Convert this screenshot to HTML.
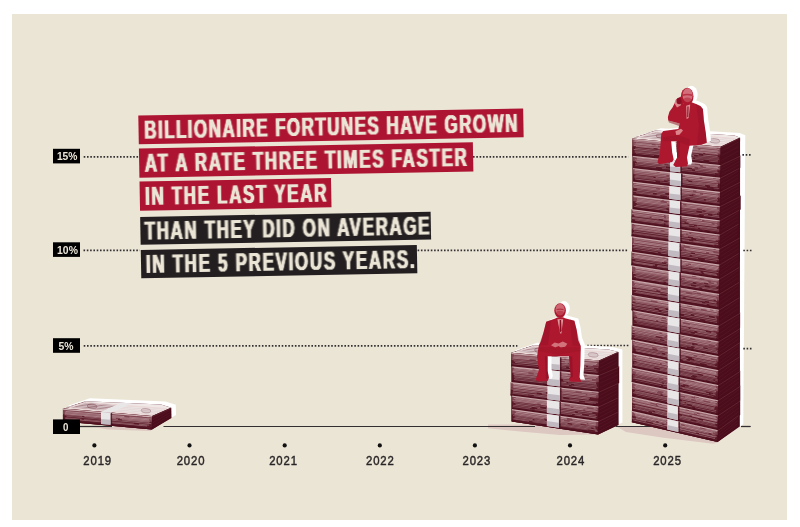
<!DOCTYPE html>
<html lang="en"><head><meta charset="utf-8"><title>Billionaire fortunes</title>
<style>
html,body{margin:0;padding:0;background:#fff;}
svg{display:block;}
text{font-family:"Liberation Sans",sans-serif;white-space:pre;}
.dot{stroke:#332f30;stroke-width:1.7;stroke-dasharray:1.6 1.7;fill:none;}
.hl{font-weight:700;font-size:25.8px;fill:#ebe5d6;}
.yl{font-weight:700;font-size:10.4px;fill:#ece6d9;}
.yr{font-weight:400;font-size:13.2px;fill:#2a2627;stroke:#2a2627;stroke-width:.45px;}
</style></head><body>
<svg width="800" height="527" viewBox="0 0 800 527">
<rect width="800" height="527" fill="#fff"/>
<rect x="12" y="14" width="775" height="506" fill="#ebe5d6"/>
<defs><filter id="thick" x="-2%" y="-10%" width="104%" height="120%" color-interpolation-filters="sRGB"><feConvolveMatrix in="SourceAlpha" order="3 1" kernelMatrix="0.42 1 0.42" divisor="1" edgeMode="none" result="a"/><feFlood flood-color="#ebe5d6"/><feComposite operator="in" in2="a"/></filter><filter id="gs" x="-5%" y="-5%" width="110%" height="110%"><feOffset dx="0" dy="0"/></filter></defs>
<g stroke="#332f30" stroke-width="1.2">
<line x1="80" y1="426.5" x2="112" y2="426.5"/>
<line x1="163.7" y1="426.5" x2="535" y2="426.5"/>
<line x1="615.8" y1="426.5" x2="655" y2="426.5"/>
<line x1="741" y1="426.5" x2="750.5" y2="426.5"/>
</g>
<line class="dot" x1="83.7" y1="156.9" x2="138.4" y2="156.9"/>
<line class="dot" x1="473.0" y1="156.8" x2="628.2" y2="156.8"/>
<line class="dot" x1="83.5" y1="250.4" x2="139.8" y2="250.4"/>
<line class="dot" x1="417.6" y1="250.4" x2="628.2" y2="250.4"/>
<line class="dot" x1="83.7" y1="345.8" x2="517.4" y2="345.8"/>
<line class="dot" x1="587.2" y1="345.5" x2="629.4" y2="345.5"/>
<g filter="url(#gs)">
<circle cx="94.4" cy="445.4" r="2.1" fill="#111"/>
<text class="yr" transform="translate(83.3,464.7) scale(.86,1)" style="letter-spacing:1.0px">2019</text>
<circle cx="189.5" cy="445.4" r="2.1" fill="#111"/>
<text class="yr" transform="translate(176.7,464.7) scale(.86,1)" style="letter-spacing:1.0px">2020</text>
<circle cx="284.7" cy="445.4" r="2.1" fill="#111"/>
<text class="yr" transform="translate(269.2,464.7) scale(.86,1)" style="letter-spacing:1.0px">2021</text>
<circle cx="379.8" cy="445.4" r="2.1" fill="#111"/>
<text class="yr" transform="translate(366.0,464.7) scale(.86,1)" style="letter-spacing:1.0px">2022</text>
<circle cx="474.9" cy="445.4" r="2.1" fill="#111"/>
<text class="yr" transform="translate(462.5,464.7) scale(.86,1)" style="letter-spacing:1.0px">2023</text>
<circle cx="570.0" cy="445.4" r="2.1" fill="#111"/>
<text class="yr" transform="translate(556.5,464.7) scale(.86,1)" style="letter-spacing:1.0px">2024</text>
<circle cx="665.2" cy="445.4" r="2.1" fill="#111"/>
<text class="yr" transform="translate(653.2,464.7) scale(.86,1)" style="letter-spacing:1.0px">2025</text>
</g>
<g transform="translate(138.3,115.6) rotate(-1.05)">
<rect x="0" y="0" width="384.9" height="28.7" fill="#ad1432"/>
<text class="hl" filter="url(#thick)" transform="translate(5.65,23.25) scale(0.659,1)" style="letter-spacing:2.233px">BILLIONAIRE FORTUNES HAVE GROWN</text>
<rect x="0" y="32.9" width="334.0" height="29.2" fill="#ad1432"/>
<text class="hl" filter="url(#thick)" transform="translate(5.62,56.40) scale(0.659,1)" style="letter-spacing:2.504px">AT A RATE THREE TIMES FASTER</text>
<rect x="0" y="66.0" width="191.5" height="29.2" fill="#ad1432"/>
<text class="hl" filter="url(#thick)" transform="translate(5.20,89.50) scale(0.659,1)" style="letter-spacing:2.536px">IN THE LAST YEAR</text>
<rect x="0" y="101.4" width="290.5" height="27.8" fill="#231f20"/>
<text class="hl" filter="url(#thick)" transform="translate(4.25,124.20) scale(0.659,1)" style="letter-spacing:2.437px">THAN THEY DID ON AVERAGE</text>
<rect x="0" y="134.4" width="276.1" height="28.4" fill="#231f20"/>
<text class="hl" filter="url(#thick)" transform="translate(4.81,157.50) scale(0.659,1)" style="letter-spacing:2.555px">IN THE 5 PREVIOUS YEARS.</text>
</g>
<polygon points="488,424.6 534,424.6 598,433.6 598,434.6 560,435 520,431.6 488,428.2" fill="#ddc7c1"/>
<polygon points="616.5,426.6 655,426.6 718.8,442.4 713,443.8 662,437.6 626,432" fill="#ddc7c1"/>
<polygon points="92,426.8 151,426.8 151,431 108,429.6" fill="#ddc7c1"/>
<g stroke="#332f30" stroke-width="1.1">
<line x1="80" y1="426.5" x2="112" y2="426.5"/>
<line x1="163.7" y1="426.5" x2="535" y2="426.5"/>
<line x1="615.8" y1="426.5" x2="655" y2="426.5"/>
<line x1="741" y1="426.5" x2="750.5" y2="426.5"/>
</g>
<g id="stack2024">
<polygon points="515.1,350.4 537.2,342.8 612.3,347.0 622.4,349.6 622.4,422.6 602.0,432.1 515.1,419.2" fill="#fff"/>
<polygon points="511.3,352.8 533.4,345.2 608.5,349.4 618.6,352.0 618.6,425.0 598.2,434.5 511.3,421.6" fill="#4b0c1b"/>
<polygon points="511.3,352.8 533.4,345.2 608.5,349.4 618.6,352.0 599.0,360.4" fill="#efe8e7"/>
<line x1="515.0" y1="351.5" x2="551.6" y2="354.7" stroke="#62202e" stroke-width=".95" opacity="0.45"/>
<line x1="555.6" y1="355.0" x2="599.6" y2="358.8" stroke="#62202e" stroke-width=".45" opacity="0.2"/>
<line x1="518.7" y1="350.3" x2="555.2" y2="353.3" stroke="#62202e" stroke-width=".95" opacity="0.45"/>
<line x1="560.0" y1="353.8" x2="602.9" y2="357.4" stroke="#62202e" stroke-width=".45" opacity="0.2"/>
<line x1="522.4" y1="349.0" x2="558.7" y2="352.0" stroke="#62202e" stroke-width=".95" opacity="0.45"/>
<line x1="566.6" y1="352.7" x2="606.2" y2="356.0" stroke="#62202e" stroke-width=".45" opacity="0.2"/>
<line x1="526.0" y1="347.7" x2="562.2" y2="350.7" stroke="#62202e" stroke-width=".95" opacity="0.45"/>
<line x1="566.2" y1="351.0" x2="609.5" y2="354.6" stroke="#62202e" stroke-width=".45" opacity="0.2"/>
<line x1="529.7" y1="346.5" x2="565.7" y2="349.4" stroke="#62202e" stroke-width=".95" opacity="0.45"/>
<line x1="570.0" y1="349.7" x2="612.8" y2="353.2" stroke="#62202e" stroke-width=".45" opacity="0.2"/>
<polygon points="516.6,352.1 533.3,346.3 613.7,352.8 598.7,359.2" fill="none" stroke="#ecd9d7" stroke-width="1"/>
<ellipse cx="539.6" cy="350.4" rx="5.0" ry="2.3" fill="#62202e" fill-opacity=".22" stroke="#62202e" stroke-width=".7" stroke-opacity=".6" opacity="0.72" transform="rotate(4 539.6 350.4)"/>
<ellipse cx="593.2" cy="354.9" rx="5.0" ry="2.3" fill="#62202e" fill-opacity=".22" stroke="#62202e" stroke-width=".7" stroke-opacity=".6" opacity="0.60" transform="rotate(4 593.2 354.9)"/>
<polygon points="511.4,352.8 598.9,360.4 598.9,374.9 511.4,366.3" fill="#62202e"/>
<polygon points="598.9,360.4 617.7,352.0 617.7,366.3 598.9,374.9" fill="#4b0c1b"/>
<polygon points="511.4,359.6 598.9,367.7 598.9,374.9 511.4,366.3" fill="#4b0c1b" opacity=".38"/>
<polygon points="511.4,352.8 598.9,360.4 598.9,366.5 511.4,358.5" fill="#b58a90" opacity=".34"/>
<line x1="513.9" y1="354.4" x2="564.3" y2="358.8" stroke="#dcc0c2" stroke-width=".62" opacity="0.69"/>
<line x1="566.3" y1="359.0" x2="596.7" y2="361.7" stroke="#dcc0c2" stroke-width=".62" opacity="0.59"/>
<line x1="514.0" y1="356.0" x2="556.3" y2="359.8" stroke="#dcc0c2" stroke-width=".62" opacity="0.55"/>
<line x1="560.7" y1="360.2" x2="577.4" y2="361.7" stroke="#dcc0c2" stroke-width=".62" opacity="0.63"/>
<line x1="579.1" y1="361.9" x2="597.3" y2="363.5" stroke="#dcc0c2" stroke-width=".62" opacity="0.85"/>
<line x1="513.4" y1="357.1" x2="557.8" y2="361.1" stroke="#dcc0c2" stroke-width=".62" opacity="0.62"/>
<line x1="564.8" y1="361.8" x2="596.3" y2="364.6" stroke="#dcc0c2" stroke-width=".62" opacity="0.77"/>
<line x1="512.5" y1="358.1" x2="529.7" y2="359.7" stroke="#dcc0c2" stroke-width=".62" opacity="0.64"/>
<line x1="535.9" y1="360.3" x2="567.7" y2="363.2" stroke="#dcc0c2" stroke-width=".62" opacity="0.79"/>
<line x1="569.2" y1="363.3" x2="592.8" y2="365.5" stroke="#dcc0c2" stroke-width=".62" opacity="0.66"/>
<line x1="511.6" y1="359.5" x2="554.6" y2="363.5" stroke="#dcc0c2" stroke-width=".62" opacity="0.56"/>
<line x1="556.6" y1="363.7" x2="585.9" y2="366.4" stroke="#dcc0c2" stroke-width=".62" opacity="0.72"/>
<line x1="588.0" y1="366.6" x2="598.2" y2="367.5" stroke="#dcc0c2" stroke-width=".62" opacity="0.49"/>
<line x1="513.6" y1="360.9" x2="548.2" y2="364.1" stroke="#dcc0c2" stroke-width=".62" opacity="0.67"/>
<line x1="550.4" y1="364.3" x2="594.0" y2="368.4" stroke="#dcc0c2" stroke-width=".62" opacity="0.58"/>
<line x1="515.2" y1="362.5" x2="566.2" y2="367.3" stroke="#dcc0c2" stroke-width=".62" opacity="0.68"/>
<line x1="568.9" y1="367.6" x2="596.3" y2="370.2" stroke="#dcc0c2" stroke-width=".62" opacity="0.61"/>
<line x1="512.2" y1="364.0" x2="538.1" y2="366.5" stroke="#dcc0c2" stroke-width=".62" opacity="0.48"/>
<line x1="541.2" y1="366.8" x2="558.6" y2="368.5" stroke="#dcc0c2" stroke-width=".62" opacity="0.54"/>
<line x1="561.4" y1="368.8" x2="597.5" y2="372.2" stroke="#dcc0c2" stroke-width=".62" opacity="0.51"/>
<line x1="513.6" y1="365.2" x2="567.5" y2="370.4" stroke="#dcc0c2" stroke-width=".62" opacity="0.41"/>
<line x1="574.0" y1="371.0" x2="597.8" y2="373.4" stroke="#dcc0c2" stroke-width=".62" opacity="0.42"/>
<line x1="599.9" y1="364.0" x2="616.7" y2="355.6" stroke="#7b3441" stroke-width=".6" opacity=".3"/>
<line x1="599.9" y1="367.7" x2="616.7" y2="359.2" stroke="#7b3441" stroke-width=".6" opacity=".3"/>
<line x1="599.9" y1="371.3" x2="616.7" y2="362.7" stroke="#7b3441" stroke-width=".6" opacity=".3"/>
<line x1="511.4" y1="353.5" x2="598.9" y2="361.1" stroke="#ead6d4" stroke-width=".9" opacity=".78"/>
<line x1="598.9" y1="361.1" x2="617.7" y2="352.7" stroke="#94565f" stroke-width=".7" opacity=".45"/>
<line x1="511.4" y1="365.3" x2="598.9" y2="373.9" stroke="#4b0c1b" stroke-width="2" opacity=".85"/>
<polygon points="559.9,357.2 561.5,357.5 561.5,370.5 559.9,370.2" fill="#4b0c1b" opacity=".8"/>
<polygon points="548.2,356.2 559.9,357.2 559.9,370.2 548.2,369.0" fill="#e9e6e8"/>
<polygon points="548.2,363.6 559.9,364.7 559.9,370.2 548.2,369.0" fill="#b7b0b7" opacity=".8"/>
<polygon points="512.2,366.3 598.8,374.9 598.8,391.7 512.2,381.9" fill="#62202e"/>
<polygon points="598.8,374.9 619.2,366.3 619.2,382.9 598.8,391.7" fill="#4b0c1b"/>
<polygon points="512.2,374.1 598.8,383.3 598.8,391.7 512.2,381.9" fill="#4b0c1b" opacity=".38"/>
<polygon points="512.2,366.3 598.8,374.9 598.8,382.0 512.2,372.9" fill="#b58a90" opacity=".34"/>
<line x1="513.9" y1="367.8" x2="532.6" y2="369.7" stroke="#dcc0c2" stroke-width=".62" opacity="0.95"/>
<line x1="535.5" y1="370.0" x2="581.9" y2="374.7" stroke="#dcc0c2" stroke-width=".62" opacity="0.90"/>
<line x1="586.7" y1="375.2" x2="597.8" y2="376.3" stroke="#dcc0c2" stroke-width=".62" opacity="0.86"/>
<line x1="514.4" y1="369.0" x2="567.6" y2="374.4" stroke="#dcc0c2" stroke-width=".62" opacity="0.67"/>
<line x1="574.2" y1="375.0" x2="597.6" y2="377.4" stroke="#dcc0c2" stroke-width=".62" opacity="0.66"/>
<line x1="512.9" y1="370.0" x2="543.9" y2="373.2" stroke="#dcc0c2" stroke-width=".62" opacity="0.59"/>
<line x1="547.3" y1="373.5" x2="595.8" y2="378.5" stroke="#dcc0c2" stroke-width=".62" opacity="0.78"/>
<line x1="512.7" y1="371.6" x2="528.4" y2="373.2" stroke="#dcc0c2" stroke-width=".62" opacity="0.83"/>
<line x1="533.7" y1="373.8" x2="592.0" y2="379.9" stroke="#dcc0c2" stroke-width=".62" opacity="0.73"/>
<line x1="513.5" y1="373.1" x2="573.4" y2="379.4" stroke="#dcc0c2" stroke-width=".62" opacity="0.67"/>
<line x1="579.0" y1="380.0" x2="596.4" y2="381.9" stroke="#dcc0c2" stroke-width=".62" opacity="0.72"/>
<line x1="513.6" y1="374.5" x2="559.1" y2="379.4" stroke="#dcc0c2" stroke-width=".62" opacity="0.74"/>
<line x1="562.9" y1="379.8" x2="596.1" y2="383.3" stroke="#dcc0c2" stroke-width=".62" opacity="0.65"/>
<line x1="514.5" y1="375.6" x2="556.5" y2="380.1" stroke="#dcc0c2" stroke-width=".62" opacity="0.65"/>
<line x1="563.5" y1="380.9" x2="596.4" y2="384.4" stroke="#dcc0c2" stroke-width=".62" opacity="0.57"/>
<line x1="513.9" y1="376.9" x2="566.5" y2="382.7" stroke="#dcc0c2" stroke-width=".62" opacity="0.65"/>
<line x1="568.2" y1="382.9" x2="597.0" y2="386.0" stroke="#dcc0c2" stroke-width=".62" opacity="0.50"/>
<line x1="514.6" y1="378.3" x2="571.0" y2="384.5" stroke="#dcc0c2" stroke-width=".62" opacity="0.41"/>
<line x1="574.1" y1="384.8" x2="597.7" y2="387.4" stroke="#dcc0c2" stroke-width=".62" opacity="0.46"/>
<line x1="514.0" y1="379.6" x2="569.0" y2="385.7" stroke="#dcc0c2" stroke-width=".62" opacity="0.56"/>
<line x1="571.6" y1="386.0" x2="596.2" y2="388.8" stroke="#dcc0c2" stroke-width=".62" opacity="0.62"/>
<line x1="514.5" y1="380.8" x2="543.1" y2="384.0" stroke="#dcc0c2" stroke-width=".62" opacity="0.49"/>
<line x1="549.2" y1="384.7" x2="596.5" y2="390.0" stroke="#dcc0c2" stroke-width=".62" opacity="0.60"/>
<line x1="599.8" y1="379.1" x2="618.2" y2="370.5" stroke="#7b3441" stroke-width=".6" opacity=".3"/>
<line x1="599.8" y1="383.3" x2="618.2" y2="374.6" stroke="#7b3441" stroke-width=".6" opacity=".3"/>
<line x1="599.8" y1="387.5" x2="618.2" y2="378.7" stroke="#7b3441" stroke-width=".6" opacity=".3"/>
<line x1="512.2" y1="367.0" x2="598.8" y2="375.6" stroke="#ead6d4" stroke-width=".9" opacity=".78"/>
<line x1="598.8" y1="375.6" x2="619.2" y2="367.0" stroke="#94565f" stroke-width=".7" opacity=".45"/>
<line x1="512.2" y1="380.9" x2="598.8" y2="390.7" stroke="#4b0c1b" stroke-width="2" opacity=".85"/>
<polygon points="559.8,371.3 561.4,371.6 561.4,386.7 559.8,386.4" fill="#4b0c1b" opacity=".8"/>
<polygon points="547.4,370.0 559.8,371.3 559.8,386.4 547.4,385.0" fill="#e9e6e8"/>
<polygon points="547.4,378.7 559.8,380.0 559.8,386.4 547.4,385.0" fill="#b7b0b7" opacity=".8"/>
<polygon points="510.6,381.9 598.6,391.7 598.6,406.4 510.6,395.5" fill="#62202e"/>
<polygon points="598.6,391.7 617.8,382.9 617.8,397.3 598.6,406.4" fill="#4b0c1b"/>
<polygon points="510.6,388.7 598.6,399.1 598.6,406.4 510.6,395.5" fill="#4b0c1b" opacity=".38"/>
<polygon points="510.6,381.9 598.6,391.7 598.6,397.9 510.6,387.6" fill="#b58a90" opacity=".34"/>
<line x1="513.1" y1="383.5" x2="549.9" y2="387.6" stroke="#dcc0c2" stroke-width=".62" opacity="0.90"/>
<line x1="556.8" y1="388.4" x2="591.6" y2="392.4" stroke="#dcc0c2" stroke-width=".62" opacity="0.59"/>
<line x1="513.5" y1="384.6" x2="553.7" y2="389.2" stroke="#dcc0c2" stroke-width=".62" opacity="0.85"/>
<line x1="555.3" y1="389.4" x2="575.6" y2="391.7" stroke="#dcc0c2" stroke-width=".62" opacity="0.56"/>
<line x1="581.6" y1="392.4" x2="597.7" y2="394.2" stroke="#dcc0c2" stroke-width=".62" opacity="0.57"/>
<line x1="513.2" y1="386.2" x2="557.3" y2="391.3" stroke="#dcc0c2" stroke-width=".62" opacity="0.86"/>
<line x1="562.5" y1="391.9" x2="585.7" y2="394.6" stroke="#dcc0c2" stroke-width=".62" opacity="0.59"/>
<line x1="587.3" y1="394.8" x2="596.3" y2="395.8" stroke="#dcc0c2" stroke-width=".62" opacity="0.59"/>
<line x1="513.4" y1="387.6" x2="551.4" y2="392.0" stroke="#dcc0c2" stroke-width=".62" opacity="0.75"/>
<line x1="555.0" y1="392.4" x2="595.8" y2="397.2" stroke="#dcc0c2" stroke-width=".62" opacity="0.53"/>
<line x1="511.2" y1="388.9" x2="546.0" y2="393.0" stroke="#dcc0c2" stroke-width=".62" opacity="0.76"/>
<line x1="549.6" y1="393.4" x2="589.8" y2="398.2" stroke="#dcc0c2" stroke-width=".62" opacity="0.72"/>
<line x1="513.2" y1="390.3" x2="536.7" y2="393.1" stroke="#dcc0c2" stroke-width=".62" opacity="0.69"/>
<line x1="541.7" y1="393.7" x2="588.7" y2="399.3" stroke="#dcc0c2" stroke-width=".62" opacity="0.72"/>
<line x1="512.8" y1="392.0" x2="563.2" y2="398.1" stroke="#dcc0c2" stroke-width=".62" opacity="0.67"/>
<line x1="569.4" y1="398.8" x2="597.9" y2="402.3" stroke="#dcc0c2" stroke-width=".62" opacity="0.54"/>
<line x1="512.6" y1="393.2" x2="527.9" y2="395.1" stroke="#dcc0c2" stroke-width=".62" opacity="0.41"/>
<line x1="533.8" y1="395.8" x2="555.7" y2="398.4" stroke="#dcc0c2" stroke-width=".62" opacity="0.60"/>
<line x1="558.0" y1="398.7" x2="578.9" y2="401.3" stroke="#dcc0c2" stroke-width=".62" opacity="0.59"/>
<line x1="585.0" y1="402.0" x2="595.7" y2="403.3" stroke="#dcc0c2" stroke-width=".62" opacity="0.52"/>
<line x1="511.5" y1="394.0" x2="549.7" y2="398.6" stroke="#dcc0c2" stroke-width=".62" opacity="0.56"/>
<line x1="554.8" y1="399.3" x2="592.8" y2="403.9" stroke="#dcc0c2" stroke-width=".62" opacity="0.52"/>
<line x1="599.6" y1="395.4" x2="616.8" y2="386.5" stroke="#7b3441" stroke-width=".6" opacity=".3"/>
<line x1="599.6" y1="399.1" x2="616.8" y2="390.1" stroke="#7b3441" stroke-width=".6" opacity=".3"/>
<line x1="599.6" y1="402.7" x2="616.8" y2="393.7" stroke="#7b3441" stroke-width=".6" opacity=".3"/>
<line x1="510.6" y1="382.6" x2="598.6" y2="392.4" stroke="#ead6d4" stroke-width=".9" opacity=".78"/>
<line x1="598.6" y1="392.4" x2="617.8" y2="383.6" stroke="#94565f" stroke-width=".7" opacity=".45"/>
<line x1="510.6" y1="394.5" x2="598.6" y2="405.4" stroke="#4b0c1b" stroke-width="2" opacity=".85"/>
<polygon points="559.9,387.6 561.5,387.9 561.5,401.0 559.9,400.7" fill="#4b0c1b" opacity=".8"/>
<polygon points="547.4,386.2 559.9,387.6 559.9,400.7 547.4,399.2" fill="#e9e6e8"/>
<polygon points="547.4,393.7 559.9,395.2 559.9,400.7 547.4,399.2" fill="#b7b0b7" opacity=".8"/>
<polygon points="512.1,395.5 598.4,406.4 598.4,420.9 512.1,409.0" fill="#62202e"/>
<polygon points="598.4,406.4 617.8,397.3 617.8,411.6 598.4,420.9" fill="#4b0c1b"/>
<polygon points="512.1,402.2 598.4,413.7 598.4,420.9 512.1,409.0" fill="#4b0c1b" opacity=".38"/>
<polygon points="512.1,395.5 598.4,406.4 598.4,412.5 512.1,401.2" fill="#b58a90" opacity=".34"/>
<line x1="515.9" y1="397.6" x2="554.1" y2="402.4" stroke="#dcc0c2" stroke-width=".62" opacity="0.65"/>
<line x1="558.5" y1="403.0" x2="595.7" y2="407.7" stroke="#dcc0c2" stroke-width=".62" opacity="0.58"/>
<line x1="513.7" y1="398.4" x2="564.5" y2="405.0" stroke="#dcc0c2" stroke-width=".62" opacity="0.73"/>
<line x1="569.8" y1="405.6" x2="586.9" y2="407.8" stroke="#dcc0c2" stroke-width=".62" opacity="0.70"/>
<line x1="593.6" y1="408.7" x2="597.3" y2="409.2" stroke="#dcc0c2" stroke-width=".62" opacity="0.72"/>
<line x1="515.3" y1="399.9" x2="570.8" y2="407.1" stroke="#dcc0c2" stroke-width=".62" opacity="0.64"/>
<line x1="573.3" y1="407.4" x2="595.6" y2="410.3" stroke="#dcc0c2" stroke-width=".62" opacity="0.57"/>
<line x1="512.8" y1="400.7" x2="537.3" y2="403.9" stroke="#dcc0c2" stroke-width=".62" opacity="0.61"/>
<line x1="540.8" y1="404.3" x2="583.3" y2="409.9" stroke="#dcc0c2" stroke-width=".62" opacity="0.75"/>
<line x1="585.4" y1="410.2" x2="597.3" y2="411.7" stroke="#dcc0c2" stroke-width=".62" opacity="0.57"/>
<line x1="513.6" y1="402.4" x2="546.6" y2="406.8" stroke="#dcc0c2" stroke-width=".62" opacity="0.53"/>
<line x1="549.2" y1="407.1" x2="592.3" y2="412.8" stroke="#dcc0c2" stroke-width=".62" opacity="0.64"/>
<line x1="515.5" y1="404.1" x2="540.2" y2="407.4" stroke="#dcc0c2" stroke-width=".62" opacity="0.69"/>
<line x1="546.7" y1="408.3" x2="575.2" y2="412.1" stroke="#dcc0c2" stroke-width=".62" opacity="0.72"/>
<line x1="577.9" y1="412.5" x2="595.7" y2="414.8" stroke="#dcc0c2" stroke-width=".62" opacity="0.49"/>
<line x1="513.1" y1="405.2" x2="531.6" y2="407.7" stroke="#dcc0c2" stroke-width=".62" opacity="0.54"/>
<line x1="537.4" y1="408.5" x2="557.2" y2="411.2" stroke="#dcc0c2" stroke-width=".62" opacity="0.61"/>
<line x1="558.8" y1="411.4" x2="582.1" y2="414.5" stroke="#dcc0c2" stroke-width=".62" opacity="0.68"/>
<line x1="588.9" y1="415.4" x2="596.7" y2="416.5" stroke="#dcc0c2" stroke-width=".62" opacity="0.63"/>
<line x1="512.8" y1="406.5" x2="530.1" y2="408.9" stroke="#dcc0c2" stroke-width=".62" opacity="0.41"/>
<line x1="534.6" y1="409.5" x2="572.3" y2="414.6" stroke="#dcc0c2" stroke-width=".62" opacity="0.43"/>
<line x1="574.8" y1="414.9" x2="595.8" y2="417.8" stroke="#dcc0c2" stroke-width=".62" opacity="0.66"/>
<line x1="512.3" y1="407.4" x2="570.1" y2="415.3" stroke="#dcc0c2" stroke-width=".62" opacity="0.57"/>
<line x1="573.4" y1="415.8" x2="596.6" y2="418.9" stroke="#dcc0c2" stroke-width=".62" opacity="0.49"/>
<line x1="599.4" y1="410.0" x2="616.8" y2="400.9" stroke="#7b3441" stroke-width=".6" opacity=".3"/>
<line x1="599.4" y1="413.7" x2="616.8" y2="404.5" stroke="#7b3441" stroke-width=".6" opacity=".3"/>
<line x1="599.4" y1="417.3" x2="616.8" y2="408.0" stroke="#7b3441" stroke-width=".6" opacity=".3"/>
<line x1="512.1" y1="396.2" x2="598.4" y2="407.1" stroke="#ead6d4" stroke-width=".9" opacity=".78"/>
<line x1="598.4" y1="407.1" x2="617.8" y2="398.0" stroke="#94565f" stroke-width=".7" opacity=".45"/>
<line x1="512.1" y1="408.0" x2="598.4" y2="419.9" stroke="#4b0c1b" stroke-width="2" opacity=".85"/>
<polygon points="559.4,401.7 561.0,402.0 561.0,414.9 559.4,414.6" fill="#4b0c1b" opacity=".8"/>
<polygon points="546.9,400.1 559.4,401.7 559.4,414.6 546.9,412.9" fill="#e9e6e8"/>
<polygon points="546.9,407.5 559.4,409.2 559.4,414.6 546.9,412.9" fill="#b7b0b7" opacity=".8"/>
<polygon points="511.9,409.0 598.3,420.9 598.3,434.5 511.9,421.6" fill="#62202e"/>
<polygon points="598.3,420.9 617.7,411.6 617.7,425.0 598.3,434.5" fill="#4b0c1b"/>
<polygon points="511.9,415.3 598.3,427.7 598.3,434.5 511.9,421.6" fill="#4b0c1b" opacity=".38"/>
<polygon points="511.9,409.0 598.3,420.9 598.3,426.6 511.9,414.3" fill="#b58a90" opacity=".34"/>
<line x1="514.9" y1="410.6" x2="547.5" y2="415.2" stroke="#dcc0c2" stroke-width=".62" opacity="0.64"/>
<line x1="551.9" y1="415.8" x2="566.6" y2="417.8" stroke="#dcc0c2" stroke-width=".62" opacity="0.88"/>
<line x1="571.9" y1="418.6" x2="596.2" y2="422.0" stroke="#dcc0c2" stroke-width=".62" opacity="0.73"/>
<line x1="515.9" y1="412.1" x2="566.9" y2="419.2" stroke="#dcc0c2" stroke-width=".62" opacity="0.88"/>
<line x1="572.5" y1="420.0" x2="595.7" y2="423.3" stroke="#dcc0c2" stroke-width=".62" opacity="0.70"/>
<line x1="514.7" y1="413.4" x2="564.0" y2="420.4" stroke="#dcc0c2" stroke-width=".62" opacity="0.66"/>
<line x1="569.5" y1="421.2" x2="586.7" y2="423.6" stroke="#dcc0c2" stroke-width=".62" opacity="0.68"/>
<line x1="588.3" y1="423.8" x2="596.2" y2="425.0" stroke="#dcc0c2" stroke-width=".62" opacity="0.74"/>
<line x1="514.6" y1="414.7" x2="544.1" y2="418.9" stroke="#dcc0c2" stroke-width=".62" opacity="0.68"/>
<line x1="548.6" y1="419.6" x2="580.5" y2="424.1" stroke="#dcc0c2" stroke-width=".62" opacity="0.70"/>
<line x1="585.9" y1="424.9" x2="595.3" y2="426.2" stroke="#dcc0c2" stroke-width=".62" opacity="0.50"/>
<line x1="513.0" y1="415.6" x2="545.4" y2="420.3" stroke="#dcc0c2" stroke-width=".62" opacity="0.53"/>
<line x1="549.0" y1="420.8" x2="567.5" y2="423.5" stroke="#dcc0c2" stroke-width=".62" opacity="0.76"/>
<line x1="572.1" y1="424.1" x2="595.4" y2="427.5" stroke="#dcc0c2" stroke-width=".62" opacity="0.65"/>
<line x1="515.2" y1="417.1" x2="532.7" y2="419.7" stroke="#dcc0c2" stroke-width=".62" opacity="0.67"/>
<line x1="534.4" y1="419.9" x2="591.2" y2="428.1" stroke="#dcc0c2" stroke-width=".62" opacity="0.59"/>
<line x1="593.7" y1="428.5" x2="596.2" y2="428.9" stroke="#dcc0c2" stroke-width=".62" opacity="0.46"/>
<line x1="514.0" y1="418.1" x2="555.5" y2="424.1" stroke="#dcc0c2" stroke-width=".62" opacity="0.51"/>
<line x1="560.7" y1="424.9" x2="597.1" y2="430.2" stroke="#dcc0c2" stroke-width=".62" opacity="0.63"/>
<line x1="512.9" y1="418.9" x2="528.9" y2="421.3" stroke="#dcc0c2" stroke-width=".62" opacity="0.61"/>
<line x1="532.5" y1="421.8" x2="587.8" y2="429.9" stroke="#dcc0c2" stroke-width=".62" opacity="0.42"/>
<line x1="594.8" y1="430.9" x2="597.6" y2="431.4" stroke="#dcc0c2" stroke-width=".62" opacity="0.65"/>
<line x1="515.8" y1="420.9" x2="541.0" y2="424.6" stroke="#dcc0c2" stroke-width=".62" opacity="0.61"/>
<line x1="546.5" y1="425.5" x2="582.1" y2="430.7" stroke="#dcc0c2" stroke-width=".62" opacity="0.58"/>
<line x1="586.9" y1="431.4" x2="596.2" y2="432.8" stroke="#dcc0c2" stroke-width=".62" opacity="0.49"/>
<line x1="599.3" y1="424.3" x2="616.7" y2="415.0" stroke="#7b3441" stroke-width=".6" opacity=".3"/>
<line x1="599.3" y1="427.7" x2="616.7" y2="418.3" stroke="#7b3441" stroke-width=".6" opacity=".3"/>
<line x1="599.3" y1="431.1" x2="616.7" y2="421.7" stroke="#7b3441" stroke-width=".6" opacity=".3"/>
<line x1="511.9" y1="409.7" x2="598.3" y2="421.6" stroke="#ead6d4" stroke-width=".9" opacity=".78"/>
<line x1="598.3" y1="421.6" x2="617.7" y2="412.3" stroke="#94565f" stroke-width=".7" opacity=".45"/>
<line x1="511.9" y1="420.6" x2="598.3" y2="433.5" stroke="#4b0c1b" stroke-width="2" opacity=".85"/>
<polygon points="558.9,415.7 560.5,416.0 560.5,428.0 558.9,427.7" fill="#4b0c1b" opacity=".8"/>
<polygon points="546.9,414.0 558.9,415.7 558.9,427.7 546.9,425.9" fill="#e9e6e8"/>
<polygon points="546.9,420.9 558.9,422.7 558.9,427.7 546.9,425.9" fill="#b7b0b7" opacity=".8"/>
</g>
<g id="stack2025">
<polygon points="637.6,136.0 660.6,128.2 739.7,133.0 745.3,135.3 743.3,424.2 721.0,439.6 635.9,419.9" fill="#fff"/>
<polygon points="632.4,138.4 655.4,130.6 734.5,135.4 740.1,137.7 739.8,426.6 717.6,442.0 632.4,422.3" fill="#4b0c1b"/>
<polygon points="632.4,138.4 655.4,130.6 734.5,135.4 740.1,137.7 720.5,146.8" fill="#efe8e7"/>
<line x1="636.2" y1="137.1" x2="673.0" y2="140.5" stroke="#62202e" stroke-width=".95" opacity="0.45"/>
<line x1="674.1" y1="140.6" x2="721.1" y2="145.0" stroke="#62202e" stroke-width=".45" opacity="0.2"/>
<line x1="640.1" y1="135.8" x2="676.6" y2="139.1" stroke="#62202e" stroke-width=".95" opacity="0.45"/>
<line x1="680.4" y1="139.5" x2="724.4" y2="143.5" stroke="#62202e" stroke-width=".45" opacity="0.2"/>
<line x1="643.9" y1="134.5" x2="680.2" y2="137.8" stroke="#62202e" stroke-width=".95" opacity="0.45"/>
<line x1="686.0" y1="138.3" x2="727.7" y2="142.0" stroke="#62202e" stroke-width=".45" opacity="0.2"/>
<line x1="647.7" y1="133.2" x2="683.8" y2="136.4" stroke="#62202e" stroke-width=".95" opacity="0.45"/>
<line x1="687.7" y1="136.7" x2="731.0" y2="140.5" stroke="#62202e" stroke-width=".45" opacity="0.2"/>
<line x1="651.6" y1="131.9" x2="687.4" y2="135.0" stroke="#62202e" stroke-width=".95" opacity="0.45"/>
<line x1="689.6" y1="135.2" x2="734.3" y2="139.0" stroke="#62202e" stroke-width=".45" opacity="0.2"/>
<polygon points="637.8,137.7 655.2,131.8 735.2,138.6 720.2,145.5" fill="none" stroke="#ecd9d7" stroke-width="1"/>
<ellipse cx="661.2" cy="136.1" rx="5.1" ry="2.3" fill="#62202e" fill-opacity=".22" stroke="#62202e" stroke-width=".7" stroke-opacity=".6" opacity="0.72" transform="rotate(4 661.2 136.1)"/>
<ellipse cx="714.7" cy="140.9" rx="5.1" ry="2.3" fill="#62202e" fill-opacity=".22" stroke="#62202e" stroke-width=".7" stroke-opacity=".6" opacity="0.60" transform="rotate(4 714.7 140.9)"/>
<polygon points="632.4,138.4 720.4,146.8 720.4,164.9 632.4,155.8" fill="#62202e"/>
<polygon points="720.4,146.8 739.4,137.7 739.4,155.4 720.4,164.9" fill="#4b0c1b"/>
<polygon points="632.4,147.1 720.4,155.8 720.4,164.9 632.4,155.8" fill="#4b0c1b" opacity=".38"/>
<polygon points="632.4,138.4 720.4,146.8 720.4,154.4 632.4,145.7" fill="#b58a90" opacity=".34"/>
<line x1="634.6" y1="140.1" x2="694.5" y2="145.9" stroke="#dcc0c2" stroke-width=".62" opacity="0.86"/>
<line x1="697.3" y1="146.2" x2="716.5" y2="148.0" stroke="#dcc0c2" stroke-width=".62" opacity="0.88"/>
<line x1="633.5" y1="141.1" x2="679.0" y2="145.5" stroke="#dcc0c2" stroke-width=".62" opacity="0.78"/>
<line x1="684.0" y1="146.0" x2="719.4" y2="149.4" stroke="#dcc0c2" stroke-width=".62" opacity="0.66"/>
<line x1="636.0" y1="143.0" x2="651.8" y2="144.6" stroke="#dcc0c2" stroke-width=".62" opacity="0.63"/>
<line x1="655.6" y1="145.0" x2="698.3" y2="149.1" stroke="#dcc0c2" stroke-width=".62" opacity="0.73"/>
<line x1="700.2" y1="149.3" x2="718.2" y2="151.0" stroke="#dcc0c2" stroke-width=".62" opacity="0.74"/>
<line x1="634.4" y1="143.9" x2="658.0" y2="146.2" stroke="#dcc0c2" stroke-width=".62" opacity="0.78"/>
<line x1="664.2" y1="146.8" x2="681.6" y2="148.5" stroke="#dcc0c2" stroke-width=".62" opacity="0.81"/>
<line x1="686.5" y1="149.0" x2="719.4" y2="152.2" stroke="#dcc0c2" stroke-width=".62" opacity="0.67"/>
<line x1="633.9" y1="145.4" x2="678.0" y2="149.8" stroke="#dcc0c2" stroke-width=".62" opacity="0.61"/>
<line x1="682.5" y1="150.2" x2="717.6" y2="153.7" stroke="#dcc0c2" stroke-width=".62" opacity="0.64"/>
<line x1="635.9" y1="146.5" x2="653.6" y2="148.3" stroke="#dcc0c2" stroke-width=".62" opacity="0.67"/>
<line x1="657.7" y1="148.7" x2="703.2" y2="153.2" stroke="#dcc0c2" stroke-width=".62" opacity="0.74"/>
<line x1="705.2" y1="153.4" x2="718.3" y2="154.7" stroke="#dcc0c2" stroke-width=".62" opacity="0.51"/>
<line x1="635.2" y1="148.2" x2="662.2" y2="150.9" stroke="#dcc0c2" stroke-width=".62" opacity="0.57"/>
<line x1="667.7" y1="151.4" x2="698.6" y2="154.5" stroke="#dcc0c2" stroke-width=".62" opacity="0.68"/>
<line x1="703.2" y1="155.0" x2="717.6" y2="156.4" stroke="#dcc0c2" stroke-width=".62" opacity="0.74"/>
<line x1="633.7" y1="149.4" x2="662.3" y2="152.3" stroke="#dcc0c2" stroke-width=".62" opacity="0.72"/>
<line x1="668.7" y1="153.0" x2="694.1" y2="155.5" stroke="#dcc0c2" stroke-width=".62" opacity="0.55"/>
<line x1="697.6" y1="155.9" x2="718.9" y2="158.0" stroke="#dcc0c2" stroke-width=".62" opacity="0.50"/>
<line x1="634.6" y1="150.9" x2="687.1" y2="156.2" stroke="#dcc0c2" stroke-width=".62" opacity="0.47"/>
<line x1="692.7" y1="156.7" x2="719.2" y2="159.4" stroke="#dcc0c2" stroke-width=".62" opacity="0.43"/>
<line x1="634.7" y1="152.0" x2="693.2" y2="158.0" stroke="#dcc0c2" stroke-width=".62" opacity="0.62"/>
<line x1="695.0" y1="158.2" x2="717.9" y2="160.5" stroke="#dcc0c2" stroke-width=".62" opacity="0.43"/>
<line x1="636.0" y1="153.6" x2="653.9" y2="155.5" stroke="#dcc0c2" stroke-width=".62" opacity="0.42"/>
<line x1="659.5" y1="156.1" x2="703.4" y2="160.5" stroke="#dcc0c2" stroke-width=".62" opacity="0.44"/>
<line x1="709.1" y1="161.1" x2="718.0" y2="162.0" stroke="#dcc0c2" stroke-width=".62" opacity="0.49"/>
<line x1="635.1" y1="155.1" x2="671.8" y2="158.8" stroke="#dcc0c2" stroke-width=".62" opacity="0.54"/>
<line x1="677.2" y1="159.4" x2="718.9" y2="163.7" stroke="#dcc0c2" stroke-width=".62" opacity="0.56"/>
<line x1="721.4" y1="151.3" x2="738.4" y2="142.1" stroke="#7b3441" stroke-width=".6" opacity=".3"/>
<line x1="721.4" y1="155.8" x2="738.4" y2="146.6" stroke="#7b3441" stroke-width=".6" opacity=".3"/>
<line x1="721.4" y1="160.4" x2="738.4" y2="151.0" stroke="#7b3441" stroke-width=".6" opacity=".3"/>
<line x1="632.4" y1="139.1" x2="720.4" y2="147.5" stroke="#ead6d4" stroke-width=".9" opacity=".78"/>
<line x1="720.4" y1="147.5" x2="739.4" y2="138.4" stroke="#94565f" stroke-width=".7" opacity=".45"/>
<line x1="632.4" y1="154.8" x2="720.4" y2="163.9" stroke="#4b0c1b" stroke-width="2" opacity=".85"/>
<polygon points="633.1,155.8 720.3,164.9 720.3,177.6 633.1,168.0" fill="#62202e"/>
<polygon points="720.3,164.9 740.3,155.4 740.3,167.8 720.3,177.6" fill="#4b0c1b"/>
<polygon points="633.1,161.9 720.3,171.2 720.3,177.6 633.1,168.0" fill="#4b0c1b" opacity=".38"/>
<polygon points="633.1,155.8 720.3,164.9 720.3,170.2 633.1,160.9" fill="#b58a90" opacity=".34"/>
<line x1="636.6" y1="157.8" x2="694.7" y2="163.9" stroke="#dcc0c2" stroke-width=".62" opacity="0.77"/>
<line x1="700.1" y1="164.4" x2="718.7" y2="166.4" stroke="#dcc0c2" stroke-width=".62" opacity="0.73"/>
<line x1="637.0" y1="159.1" x2="668.3" y2="162.4" stroke="#dcc0c2" stroke-width=".62" opacity="0.61"/>
<line x1="672.1" y1="162.8" x2="699.6" y2="165.7" stroke="#dcc0c2" stroke-width=".62" opacity="0.56"/>
<line x1="702.8" y1="166.0" x2="718.1" y2="167.7" stroke="#dcc0c2" stroke-width=".62" opacity="0.82"/>
<line x1="634.9" y1="159.8" x2="675.8" y2="164.1" stroke="#dcc0c2" stroke-width=".62" opacity="0.53"/>
<line x1="677.9" y1="164.3" x2="700.4" y2="166.7" stroke="#dcc0c2" stroke-width=".62" opacity="0.60"/>
<line x1="705.8" y1="167.3" x2="719.2" y2="168.7" stroke="#dcc0c2" stroke-width=".62" opacity="0.59"/>
<line x1="636.1" y1="161.3" x2="664.4" y2="164.3" stroke="#dcc0c2" stroke-width=".62" opacity="0.76"/>
<line x1="668.6" y1="164.8" x2="694.6" y2="167.6" stroke="#dcc0c2" stroke-width=".62" opacity="0.79"/>
<line x1="697.9" y1="167.9" x2="717.4" y2="170.0" stroke="#dcc0c2" stroke-width=".62" opacity="0.65"/>
<line x1="636.9" y1="162.7" x2="687.7" y2="168.1" stroke="#dcc0c2" stroke-width=".62" opacity="0.63"/>
<line x1="692.1" y1="168.6" x2="717.3" y2="171.3" stroke="#dcc0c2" stroke-width=".62" opacity="0.67"/>
<line x1="635.0" y1="163.8" x2="666.0" y2="167.2" stroke="#dcc0c2" stroke-width=".62" opacity="0.65"/>
<line x1="670.9" y1="167.7" x2="692.1" y2="170.0" stroke="#dcc0c2" stroke-width=".62" opacity="0.53"/>
<line x1="695.0" y1="170.3" x2="718.5" y2="172.8" stroke="#dcc0c2" stroke-width=".62" opacity="0.63"/>
<line x1="635.2" y1="165.4" x2="656.1" y2="167.6" stroke="#dcc0c2" stroke-width=".62" opacity="0.41"/>
<line x1="662.1" y1="168.3" x2="715.1" y2="174.0" stroke="#dcc0c2" stroke-width=".62" opacity="0.43"/>
<line x1="633.5" y1="166.8" x2="669.5" y2="170.8" stroke="#dcc0c2" stroke-width=".62" opacity="0.61"/>
<line x1="674.3" y1="171.3" x2="719.0" y2="176.2" stroke="#dcc0c2" stroke-width=".62" opacity="0.57"/>
<line x1="721.3" y1="168.1" x2="739.3" y2="158.5" stroke="#7b3441" stroke-width=".6" opacity=".3"/>
<line x1="721.3" y1="171.2" x2="739.3" y2="161.6" stroke="#7b3441" stroke-width=".6" opacity=".3"/>
<line x1="721.3" y1="174.4" x2="739.3" y2="164.7" stroke="#7b3441" stroke-width=".6" opacity=".3"/>
<line x1="633.1" y1="156.5" x2="720.3" y2="165.6" stroke="#ead6d4" stroke-width=".9" opacity=".78"/>
<line x1="720.3" y1="165.6" x2="740.3" y2="156.1" stroke="#94565f" stroke-width=".7" opacity=".45"/>
<line x1="633.1" y1="167.0" x2="720.3" y2="176.6" stroke="#4b0c1b" stroke-width="2" opacity=".85"/>
<polygon points="680.2,160.9 681.8,161.2 681.8,172.6 680.2,172.3" fill="#4b0c1b" opacity=".8"/>
<polygon points="670.0,159.9 680.2,160.9 680.2,172.3 670.0,171.2" fill="#e9e6e8"/>
<polygon points="670.0,166.4 680.2,167.5 680.2,172.3 670.0,171.2" fill="#b7b0b7" opacity=".8"/>
<polygon points="633.0,168.0 720.1,177.6 720.1,191.7 633.0,181.6" fill="#62202e"/>
<polygon points="720.1,177.6 739.0,167.8 739.0,181.7 720.1,191.7" fill="#4b0c1b"/>
<polygon points="633.0,174.8 720.1,184.6 720.1,191.7 633.0,181.6" fill="#4b0c1b" opacity=".38"/>
<polygon points="633.0,168.0 720.1,177.6 720.1,183.5 633.0,173.7" fill="#b58a90" opacity=".34"/>
<line x1="635.1" y1="169.6" x2="656.4" y2="172.0" stroke="#dcc0c2" stroke-width=".62" opacity="0.69"/>
<line x1="659.6" y1="172.3" x2="677.1" y2="174.3" stroke="#dcc0c2" stroke-width=".62" opacity="0.75"/>
<line x1="682.5" y1="174.9" x2="713.0" y2="178.2" stroke="#dcc0c2" stroke-width=".62" opacity="0.61"/>
<line x1="716.7" y1="178.6" x2="717.2" y2="178.7" stroke="#dcc0c2" stroke-width=".62" opacity="0.89"/>
<line x1="634.5" y1="170.6" x2="681.2" y2="175.7" stroke="#dcc0c2" stroke-width=".62" opacity="0.76"/>
<line x1="685.2" y1="176.2" x2="699.7" y2="177.8" stroke="#dcc0c2" stroke-width=".62" opacity="0.85"/>
<line x1="702.3" y1="178.1" x2="718.9" y2="179.9" stroke="#dcc0c2" stroke-width=".62" opacity="0.70"/>
<line x1="634.4" y1="172.1" x2="666.4" y2="175.7" stroke="#dcc0c2" stroke-width=".62" opacity="0.62"/>
<line x1="669.0" y1="176.0" x2="716.6" y2="181.3" stroke="#dcc0c2" stroke-width=".62" opacity="0.86"/>
<line x1="634.3" y1="173.7" x2="686.4" y2="179.6" stroke="#dcc0c2" stroke-width=".62" opacity="0.54"/>
<line x1="688.4" y1="179.8" x2="717.9" y2="183.1" stroke="#dcc0c2" stroke-width=".62" opacity="0.56"/>
<line x1="635.4" y1="175.3" x2="653.5" y2="177.4" stroke="#dcc0c2" stroke-width=".62" opacity="0.52"/>
<line x1="655.7" y1="177.6" x2="688.4" y2="181.3" stroke="#dcc0c2" stroke-width=".62" opacity="0.76"/>
<line x1="692.3" y1="181.7" x2="718.0" y2="184.6" stroke="#dcc0c2" stroke-width=".62" opacity="0.71"/>
<line x1="634.3" y1="176.2" x2="667.3" y2="180.0" stroke="#dcc0c2" stroke-width=".62" opacity="0.57"/>
<line x1="672.6" y1="180.6" x2="717.7" y2="185.7" stroke="#dcc0c2" stroke-width=".62" opacity="0.65"/>
<line x1="634.3" y1="177.3" x2="664.1" y2="180.7" stroke="#dcc0c2" stroke-width=".62" opacity="0.46"/>
<line x1="667.6" y1="181.1" x2="705.1" y2="185.4" stroke="#dcc0c2" stroke-width=".62" opacity="0.67"/>
<line x1="709.9" y1="186.0" x2="717.7" y2="186.9" stroke="#dcc0c2" stroke-width=".62" opacity="0.69"/>
<line x1="635.0" y1="179.0" x2="655.5" y2="181.4" stroke="#dcc0c2" stroke-width=".62" opacity="0.66"/>
<line x1="659.9" y1="181.9" x2="706.8" y2="187.3" stroke="#dcc0c2" stroke-width=".62" opacity="0.45"/>
<line x1="713.5" y1="188.0" x2="719.1" y2="188.7" stroke="#dcc0c2" stroke-width=".62" opacity="0.42"/>
<line x1="635.8" y1="180.6" x2="664.9" y2="184.0" stroke="#dcc0c2" stroke-width=".62" opacity="0.46"/>
<line x1="669.0" y1="184.4" x2="688.7" y2="186.7" stroke="#dcc0c2" stroke-width=".62" opacity="0.41"/>
<line x1="695.2" y1="187.5" x2="718.2" y2="190.1" stroke="#dcc0c2" stroke-width=".62" opacity="0.51"/>
<line x1="721.1" y1="181.1" x2="738.0" y2="171.3" stroke="#7b3441" stroke-width=".6" opacity=".3"/>
<line x1="721.1" y1="184.6" x2="738.0" y2="174.7" stroke="#7b3441" stroke-width=".6" opacity=".3"/>
<line x1="721.1" y1="188.2" x2="738.0" y2="178.2" stroke="#7b3441" stroke-width=".6" opacity=".3"/>
<line x1="633.0" y1="168.7" x2="720.1" y2="178.3" stroke="#ead6d4" stroke-width=".9" opacity=".78"/>
<line x1="720.1" y1="178.3" x2="739.0" y2="168.5" stroke="#94565f" stroke-width=".7" opacity=".45"/>
<line x1="633.0" y1="180.6" x2="720.1" y2="190.7" stroke="#4b0c1b" stroke-width="2" opacity=".85"/>
<polygon points="681.0,173.5 682.6,173.8 682.6,186.6 681.0,186.3" fill="#4b0c1b" opacity=".8"/>
<polygon points="669.9,172.3 681.0,173.5 681.0,186.3 669.9,185.0" fill="#e9e6e8"/>
<polygon points="669.9,179.6 681.0,180.9 681.0,186.3 669.9,185.0" fill="#b7b0b7" opacity=".8"/>
<polygon points="633.0,181.6 720.0,191.7 720.0,206.0 633.0,195.3" fill="#62202e"/>
<polygon points="720.0,191.7 739.8,181.7 739.8,195.6 720.0,206.0" fill="#4b0c1b"/>
<polygon points="633.0,188.4 720.0,198.8 720.0,206.0 633.0,195.3" fill="#4b0c1b" opacity=".38"/>
<polygon points="633.0,181.6 720.0,191.7 720.0,197.7 633.0,187.4" fill="#b58a90" opacity=".34"/>
<line x1="636.3" y1="183.1" x2="663.6" y2="186.3" stroke="#dcc0c2" stroke-width=".62" opacity="0.67"/>
<line x1="668.2" y1="186.8" x2="719.0" y2="192.8" stroke="#dcc0c2" stroke-width=".62" opacity="0.79"/>
<line x1="633.7" y1="184.1" x2="693.1" y2="191.1" stroke="#dcc0c2" stroke-width=".62" opacity="0.80"/>
<line x1="696.3" y1="191.5" x2="717.6" y2="194.0" stroke="#dcc0c2" stroke-width=".62" opacity="0.70"/>
<line x1="633.0" y1="185.9" x2="656.2" y2="188.7" stroke="#dcc0c2" stroke-width=".62" opacity="0.57"/>
<line x1="659.8" y1="189.1" x2="700.0" y2="193.9" stroke="#dcc0c2" stroke-width=".62" opacity="0.70"/>
<line x1="703.0" y1="194.2" x2="718.7" y2="196.1" stroke="#dcc0c2" stroke-width=".62" opacity="0.74"/>
<line x1="633.6" y1="187.3" x2="691.7" y2="194.2" stroke="#dcc0c2" stroke-width=".62" opacity="0.65"/>
<line x1="695.5" y1="194.6" x2="717.8" y2="197.3" stroke="#dcc0c2" stroke-width=".62" opacity="0.75"/>
<line x1="637.0" y1="188.9" x2="689.5" y2="195.2" stroke="#dcc0c2" stroke-width=".62" opacity="0.60"/>
<line x1="693.4" y1="195.7" x2="717.2" y2="198.5" stroke="#dcc0c2" stroke-width=".62" opacity="0.64"/>
<line x1="636.6" y1="190.2" x2="665.3" y2="193.7" stroke="#dcc0c2" stroke-width=".62" opacity="0.67"/>
<line x1="671.8" y1="194.4" x2="718.0" y2="200.0" stroke="#dcc0c2" stroke-width=".62" opacity="0.68"/>
<line x1="633.3" y1="191.3" x2="653.0" y2="193.7" stroke="#dcc0c2" stroke-width=".62" opacity="0.56"/>
<line x1="656.7" y1="194.1" x2="673.1" y2="196.1" stroke="#dcc0c2" stroke-width=".62" opacity="0.57"/>
<line x1="675.9" y1="196.4" x2="704.0" y2="199.8" stroke="#dcc0c2" stroke-width=".62" opacity="0.49"/>
<line x1="705.8" y1="200.0" x2="717.1" y2="201.4" stroke="#dcc0c2" stroke-width=".62" opacity="0.61"/>
<line x1="636.2" y1="192.9" x2="660.4" y2="195.8" stroke="#dcc0c2" stroke-width=".62" opacity="0.55"/>
<line x1="666.9" y1="196.6" x2="685.4" y2="198.9" stroke="#dcc0c2" stroke-width=".62" opacity="0.43"/>
<line x1="689.9" y1="199.4" x2="719.5" y2="203.0" stroke="#dcc0c2" stroke-width=".62" opacity="0.46"/>
<line x1="633.2" y1="193.8" x2="688.4" y2="200.6" stroke="#dcc0c2" stroke-width=".62" opacity="0.47"/>
<line x1="691.9" y1="201.0" x2="719.4" y2="204.3" stroke="#dcc0c2" stroke-width=".62" opacity="0.38"/>
<line x1="721.0" y1="195.3" x2="738.8" y2="185.1" stroke="#7b3441" stroke-width=".6" opacity=".3"/>
<line x1="721.0" y1="198.8" x2="738.8" y2="188.6" stroke="#7b3441" stroke-width=".6" opacity=".3"/>
<line x1="721.0" y1="202.4" x2="738.8" y2="192.1" stroke="#7b3441" stroke-width=".6" opacity=".3"/>
<line x1="633.0" y1="182.3" x2="720.0" y2="192.4" stroke="#ead6d4" stroke-width=".9" opacity=".78"/>
<line x1="720.0" y1="192.4" x2="739.8" y2="182.4" stroke="#94565f" stroke-width=".7" opacity=".45"/>
<line x1="633.0" y1="194.3" x2="720.0" y2="205.0" stroke="#4b0c1b" stroke-width="2" opacity=".85"/>
<polygon points="680.4,187.3 682.0,187.6 682.0,200.5 680.4,200.2" fill="#4b0c1b" opacity=".8"/>
<polygon points="669.2,186.0 680.4,187.3 680.4,200.2 669.2,198.8" fill="#e9e6e8"/>
<polygon points="669.2,193.4 680.4,194.8 680.4,200.2 669.2,198.8" fill="#b7b0b7" opacity=".8"/>
<polygon points="633.2,195.3 719.8,206.0 719.8,220.2 633.2,209.0" fill="#62202e"/>
<polygon points="719.8,206.0 740.7,195.6 740.7,209.5 719.8,220.2" fill="#4b0c1b"/>
<polygon points="633.2,202.2 719.8,213.1 719.8,220.2 633.2,209.0" fill="#4b0c1b" opacity=".38"/>
<polygon points="633.2,195.3 719.8,206.0 719.8,211.9 633.2,201.1" fill="#b58a90" opacity=".34"/>
<line x1="634.1" y1="196.8" x2="661.7" y2="200.2" stroke="#dcc0c2" stroke-width=".62" opacity="0.92"/>
<line x1="664.2" y1="200.5" x2="716.8" y2="207.0" stroke="#dcc0c2" stroke-width=".62" opacity="0.76"/>
<line x1="637.2" y1="198.8" x2="660.5" y2="201.7" stroke="#dcc0c2" stroke-width=".62" opacity="0.61"/>
<line x1="666.9" y1="202.5" x2="683.2" y2="204.5" stroke="#dcc0c2" stroke-width=".62" opacity="0.81"/>
<line x1="686.4" y1="204.9" x2="717.2" y2="208.8" stroke="#dcc0c2" stroke-width=".62" opacity="0.80"/>
<line x1="637.0" y1="200.0" x2="671.5" y2="204.3" stroke="#dcc0c2" stroke-width=".62" opacity="0.60"/>
<line x1="674.7" y1="204.7" x2="718.9" y2="210.3" stroke="#dcc0c2" stroke-width=".62" opacity="0.58"/>
<line x1="636.4" y1="201.3" x2="667.5" y2="205.2" stroke="#dcc0c2" stroke-width=".62" opacity="0.79"/>
<line x1="672.3" y1="205.8" x2="696.8" y2="208.9" stroke="#dcc0c2" stroke-width=".62" opacity="0.80"/>
<line x1="702.0" y1="209.5" x2="717.7" y2="211.5" stroke="#dcc0c2" stroke-width=".62" opacity="0.53"/>
<line x1="635.4" y1="202.4" x2="673.8" y2="207.2" stroke="#dcc0c2" stroke-width=".62" opacity="0.66"/>
<line x1="676.8" y1="207.6" x2="702.4" y2="210.8" stroke="#dcc0c2" stroke-width=".62" opacity="0.50"/>
<line x1="705.5" y1="211.2" x2="718.7" y2="212.9" stroke="#dcc0c2" stroke-width=".62" opacity="0.56"/>
<line x1="636.8" y1="203.8" x2="696.3" y2="211.3" stroke="#dcc0c2" stroke-width=".62" opacity="0.59"/>
<line x1="701.9" y1="212.0" x2="717.0" y2="213.9" stroke="#dcc0c2" stroke-width=".62" opacity="0.60"/>
<line x1="635.8" y1="205.3" x2="666.4" y2="209.2" stroke="#dcc0c2" stroke-width=".62" opacity="0.64"/>
<line x1="670.7" y1="209.7" x2="708.0" y2="214.5" stroke="#dcc0c2" stroke-width=".62" opacity="0.62"/>
<line x1="712.3" y1="215.0" x2="718.9" y2="215.9" stroke="#dcc0c2" stroke-width=".62" opacity="0.64"/>
<line x1="634.2" y1="206.5" x2="668.4" y2="210.8" stroke="#dcc0c2" stroke-width=".62" opacity="0.61"/>
<line x1="674.3" y1="211.6" x2="699.2" y2="214.8" stroke="#dcc0c2" stroke-width=".62" opacity="0.46"/>
<line x1="703.8" y1="215.4" x2="719.3" y2="217.4" stroke="#dcc0c2" stroke-width=".62" opacity="0.56"/>
<line x1="636.7" y1="208.1" x2="659.0" y2="211.0" stroke="#dcc0c2" stroke-width=".62" opacity="0.38"/>
<line x1="663.2" y1="211.5" x2="697.2" y2="215.9" stroke="#dcc0c2" stroke-width=".62" opacity="0.44"/>
<line x1="703.1" y1="216.7" x2="717.1" y2="218.5" stroke="#dcc0c2" stroke-width=".62" opacity="0.51"/>
<line x1="720.8" y1="209.5" x2="739.7" y2="199.1" stroke="#7b3441" stroke-width=".6" opacity=".3"/>
<line x1="720.8" y1="213.1" x2="739.7" y2="202.6" stroke="#7b3441" stroke-width=".6" opacity=".3"/>
<line x1="720.8" y1="216.6" x2="739.7" y2="206.1" stroke="#7b3441" stroke-width=".6" opacity=".3"/>
<line x1="633.2" y1="196.0" x2="719.8" y2="206.7" stroke="#ead6d4" stroke-width=".9" opacity=".78"/>
<line x1="719.8" y1="206.7" x2="740.7" y2="196.3" stroke="#94565f" stroke-width=".7" opacity=".45"/>
<line x1="633.2" y1="208.0" x2="719.8" y2="219.2" stroke="#4b0c1b" stroke-width="2" opacity=".85"/>
<polygon points="680.0,201.3 681.6,201.6 681.6,214.4 680.0,214.1" fill="#4b0c1b" opacity=".8"/>
<polygon points="669.5,200.0 680.0,201.3 680.0,214.1 669.5,212.8" fill="#e9e6e8"/>
<polygon points="669.5,207.4 680.0,208.7 680.0,214.1 669.5,212.8" fill="#b7b0b7" opacity=".8"/>
<polygon points="631.4,209.0 719.7,220.2 719.7,234.4 631.4,222.6" fill="#62202e"/>
<polygon points="719.7,220.2 739.2,209.5 739.2,223.4 719.7,234.4" fill="#4b0c1b"/>
<polygon points="631.4,215.8 719.7,227.3 719.7,234.4 631.4,222.6" fill="#4b0c1b" opacity=".38"/>
<polygon points="631.4,209.0 719.7,220.2 719.7,226.1 631.4,214.7" fill="#b58a90" opacity=".34"/>
<line x1="632.7" y1="210.2" x2="675.3" y2="215.6" stroke="#dcc0c2" stroke-width=".62" opacity="0.68"/>
<line x1="680.0" y1="216.2" x2="698.1" y2="218.5" stroke="#dcc0c2" stroke-width=".62" opacity="0.65"/>
<line x1="701.0" y1="218.9" x2="717.5" y2="221.0" stroke="#dcc0c2" stroke-width=".62" opacity="0.90"/>
<line x1="633.1" y1="211.6" x2="663.8" y2="215.6" stroke="#dcc0c2" stroke-width=".62" opacity="0.91"/>
<line x1="665.6" y1="215.8" x2="702.1" y2="220.5" stroke="#dcc0c2" stroke-width=".62" opacity="0.92"/>
<line x1="704.4" y1="220.8" x2="717.3" y2="222.4" stroke="#dcc0c2" stroke-width=".62" opacity="0.57"/>
<line x1="632.0" y1="213.4" x2="664.1" y2="217.6" stroke="#dcc0c2" stroke-width=".62" opacity="0.67"/>
<line x1="666.0" y1="217.8" x2="681.6" y2="219.8" stroke="#dcc0c2" stroke-width=".62" opacity="0.78"/>
<line x1="687.1" y1="220.5" x2="711.7" y2="223.7" stroke="#dcc0c2" stroke-width=".62" opacity="0.71"/>
<line x1="714.5" y1="224.1" x2="716.9" y2="224.4" stroke="#dcc0c2" stroke-width=".62" opacity="0.65"/>
<line x1="633.9" y1="215.1" x2="649.7" y2="217.1" stroke="#dcc0c2" stroke-width=".62" opacity="0.71"/>
<line x1="651.5" y1="217.4" x2="681.3" y2="221.2" stroke="#dcc0c2" stroke-width=".62" opacity="0.78"/>
<line x1="686.1" y1="221.8" x2="718.1" y2="226.0" stroke="#dcc0c2" stroke-width=".62" opacity="0.62"/>
<line x1="634.6" y1="216.1" x2="658.5" y2="219.2" stroke="#dcc0c2" stroke-width=".62" opacity="0.53"/>
<line x1="663.0" y1="219.8" x2="684.5" y2="222.6" stroke="#dcc0c2" stroke-width=".62" opacity="0.54"/>
<line x1="688.6" y1="223.2" x2="716.8" y2="226.8" stroke="#dcc0c2" stroke-width=".62" opacity="0.79"/>
<line x1="632.3" y1="217.5" x2="663.9" y2="221.6" stroke="#dcc0c2" stroke-width=".62" opacity="0.65"/>
<line x1="667.4" y1="222.1" x2="694.0" y2="225.6" stroke="#dcc0c2" stroke-width=".62" opacity="0.50"/>
<line x1="696.9" y1="226.0" x2="716.9" y2="228.6" stroke="#dcc0c2" stroke-width=".62" opacity="0.66"/>
<line x1="632.1" y1="218.5" x2="689.1" y2="226.0" stroke="#dcc0c2" stroke-width=".62" opacity="0.64"/>
<line x1="694.6" y1="226.7" x2="719.2" y2="229.9" stroke="#dcc0c2" stroke-width=".62" opacity="0.52"/>
<line x1="635.0" y1="220.1" x2="663.9" y2="223.9" stroke="#dcc0c2" stroke-width=".62" opacity="0.54"/>
<line x1="665.7" y1="224.1" x2="697.9" y2="228.3" stroke="#dcc0c2" stroke-width=".62" opacity="0.41"/>
<line x1="700.2" y1="228.7" x2="719.1" y2="231.2" stroke="#dcc0c2" stroke-width=".62" opacity="0.49"/>
<line x1="632.0" y1="221.3" x2="678.5" y2="227.5" stroke="#dcc0c2" stroke-width=".62" opacity="0.55"/>
<line x1="683.6" y1="228.2" x2="704.4" y2="230.9" stroke="#dcc0c2" stroke-width=".62" opacity="0.44"/>
<line x1="709.8" y1="231.7" x2="718.2" y2="232.8" stroke="#dcc0c2" stroke-width=".62" opacity="0.59"/>
<line x1="720.7" y1="223.7" x2="738.2" y2="213.0" stroke="#7b3441" stroke-width=".6" opacity=".3"/>
<line x1="720.7" y1="227.3" x2="738.2" y2="216.5" stroke="#7b3441" stroke-width=".6" opacity=".3"/>
<line x1="720.7" y1="230.8" x2="738.2" y2="219.9" stroke="#7b3441" stroke-width=".6" opacity=".3"/>
<line x1="631.4" y1="209.7" x2="719.7" y2="220.9" stroke="#ead6d4" stroke-width=".9" opacity=".78"/>
<line x1="719.7" y1="220.9" x2="739.2" y2="210.2" stroke="#94565f" stroke-width=".7" opacity=".45"/>
<line x1="631.4" y1="221.6" x2="719.7" y2="233.4" stroke="#4b0c1b" stroke-width="2" opacity=".85"/>
<polygon points="679.9,215.4 681.5,215.7 681.5,228.5 679.9,228.2" fill="#4b0c1b" opacity=".8"/>
<polygon points="668.9,214.0 679.9,215.4 679.9,228.2 668.9,226.7" fill="#e9e6e8"/>
<polygon points="668.9,221.3 679.9,222.8 679.9,228.2 668.9,226.7" fill="#b7b0b7" opacity=".8"/>
<polygon points="631.6,222.6 719.6,234.4 719.6,248.6 631.6,236.3" fill="#62202e"/>
<polygon points="719.6,234.4 738.6,223.4 738.6,237.3 719.6,248.6" fill="#4b0c1b"/>
<polygon points="631.6,229.4 719.6,241.5 719.6,248.6 631.6,236.3" fill="#4b0c1b" opacity=".38"/>
<polygon points="631.6,222.6 719.6,234.4 719.6,240.3 631.6,228.4" fill="#b58a90" opacity=".34"/>
<line x1="634.1" y1="224.0" x2="674.2" y2="229.3" stroke="#dcc0c2" stroke-width=".62" opacity="0.96"/>
<line x1="677.3" y1="229.8" x2="716.8" y2="235.1" stroke="#dcc0c2" stroke-width=".62" opacity="0.66"/>
<line x1="635.4" y1="226.0" x2="689.4" y2="233.2" stroke="#dcc0c2" stroke-width=".62" opacity="0.78"/>
<line x1="691.4" y1="233.5" x2="718.1" y2="237.1" stroke="#dcc0c2" stroke-width=".62" opacity="0.57"/>
<line x1="633.6" y1="226.9" x2="660.5" y2="230.5" stroke="#dcc0c2" stroke-width=".62" opacity="0.67"/>
<line x1="664.6" y1="231.1" x2="686.2" y2="234.0" stroke="#dcc0c2" stroke-width=".62" opacity="0.61"/>
<line x1="688.3" y1="234.3" x2="718.0" y2="238.3" stroke="#dcc0c2" stroke-width=".62" opacity="0.58"/>
<line x1="633.8" y1="228.5" x2="680.0" y2="234.8" stroke="#dcc0c2" stroke-width=".62" opacity="0.63"/>
<line x1="683.5" y1="235.3" x2="700.4" y2="237.6" stroke="#dcc0c2" stroke-width=".62" opacity="0.51"/>
<line x1="704.6" y1="238.2" x2="717.9" y2="240.0" stroke="#dcc0c2" stroke-width=".62" opacity="0.60"/>
<line x1="633.0" y1="229.3" x2="688.0" y2="236.8" stroke="#dcc0c2" stroke-width=".62" opacity="0.56"/>
<line x1="693.2" y1="237.5" x2="715.7" y2="240.6" stroke="#dcc0c2" stroke-width=".62" opacity="0.68"/>
<line x1="633.9" y1="231.0" x2="691.3" y2="238.9" stroke="#dcc0c2" stroke-width=".62" opacity="0.64"/>
<line x1="696.2" y1="239.6" x2="718.0" y2="242.6" stroke="#dcc0c2" stroke-width=".62" opacity="0.53"/>
<line x1="633.1" y1="232.7" x2="689.0" y2="240.4" stroke="#dcc0c2" stroke-width=".62" opacity="0.46"/>
<line x1="693.3" y1="241.0" x2="718.2" y2="244.4" stroke="#dcc0c2" stroke-width=".62" opacity="0.69"/>
<line x1="632.5" y1="233.5" x2="677.8" y2="239.7" stroke="#dcc0c2" stroke-width=".62" opacity="0.40"/>
<line x1="682.3" y1="240.4" x2="714.4" y2="244.8" stroke="#dcc0c2" stroke-width=".62" opacity="0.53"/>
<line x1="634.1" y1="235.3" x2="673.9" y2="240.8" stroke="#dcc0c2" stroke-width=".62" opacity="0.61"/>
<line x1="677.2" y1="241.3" x2="707.2" y2="245.5" stroke="#dcc0c2" stroke-width=".62" opacity="0.45"/>
<line x1="712.6" y1="246.2" x2="717.4" y2="246.9" stroke="#dcc0c2" stroke-width=".62" opacity="0.61"/>
<line x1="720.6" y1="237.9" x2="737.6" y2="226.9" stroke="#7b3441" stroke-width=".6" opacity=".3"/>
<line x1="720.6" y1="241.5" x2="737.6" y2="230.4" stroke="#7b3441" stroke-width=".6" opacity=".3"/>
<line x1="720.6" y1="245.0" x2="737.6" y2="233.8" stroke="#7b3441" stroke-width=".6" opacity=".3"/>
<line x1="631.6" y1="223.3" x2="719.6" y2="235.1" stroke="#ead6d4" stroke-width=".9" opacity=".78"/>
<line x1="719.6" y1="235.1" x2="738.6" y2="224.1" stroke="#94565f" stroke-width=".7" opacity=".45"/>
<line x1="631.6" y1="235.3" x2="719.6" y2="247.6" stroke="#4b0c1b" stroke-width="2" opacity=".85"/>
<polygon points="680.1,229.3 681.7,229.6 681.7,242.5 680.1,242.2" fill="#4b0c1b" opacity=".8"/>
<polygon points="668.6,227.7 680.1,229.3 680.1,242.2 668.6,240.6" fill="#e9e6e8"/>
<polygon points="668.6,235.2 680.1,236.8 680.1,242.2 668.6,240.6" fill="#b7b0b7" opacity=".8"/>
<polygon points="632.2,236.3 719.4,248.6 719.4,264.4 632.2,251.5" fill="#62202e"/>
<polygon points="719.4,248.6 739.7,237.3 739.7,252.8 719.4,264.4" fill="#4b0c1b"/>
<polygon points="632.2,243.9 719.4,256.5 719.4,264.4 632.2,251.5" fill="#4b0c1b" opacity=".38"/>
<polygon points="632.2,236.3 719.4,248.6 719.4,255.2 632.2,242.7" fill="#b58a90" opacity=".34"/>
<line x1="633.4" y1="237.8" x2="681.8" y2="244.6" stroke="#dcc0c2" stroke-width=".62" opacity="0.67"/>
<line x1="684.7" y1="245.0" x2="713.6" y2="249.1" stroke="#dcc0c2" stroke-width=".62" opacity="0.78"/>
<line x1="715.8" y1="249.4" x2="718.8" y2="249.8" stroke="#dcc0c2" stroke-width=".62" opacity="0.62"/>
<line x1="634.0" y1="239.1" x2="683.6" y2="246.1" stroke="#dcc0c2" stroke-width=".62" opacity="0.62"/>
<line x1="689.8" y1="247.0" x2="718.8" y2="251.1" stroke="#dcc0c2" stroke-width=".62" opacity="0.65"/>
<line x1="633.8" y1="240.9" x2="680.7" y2="247.6" stroke="#dcc0c2" stroke-width=".62" opacity="0.78"/>
<line x1="684.0" y1="248.1" x2="713.4" y2="252.3" stroke="#dcc0c2" stroke-width=".62" opacity="0.82"/>
<line x1="633.9" y1="242.1" x2="680.4" y2="248.8" stroke="#dcc0c2" stroke-width=".62" opacity="0.79"/>
<line x1="686.3" y1="249.6" x2="706.1" y2="252.5" stroke="#dcc0c2" stroke-width=".62" opacity="0.73"/>
<line x1="708.9" y1="252.9" x2="718.9" y2="254.3" stroke="#dcc0c2" stroke-width=".62" opacity="0.71"/>
<line x1="632.8" y1="243.6" x2="678.4" y2="250.2" stroke="#dcc0c2" stroke-width=".62" opacity="0.68"/>
<line x1="682.1" y1="250.7" x2="716.5" y2="255.7" stroke="#dcc0c2" stroke-width=".62" opacity="0.50"/>
<line x1="632.4" y1="244.4" x2="659.6" y2="248.3" stroke="#dcc0c2" stroke-width=".62" opacity="0.78"/>
<line x1="661.7" y1="248.6" x2="690.9" y2="252.8" stroke="#dcc0c2" stroke-width=".62" opacity="0.64"/>
<line x1="695.1" y1="253.4" x2="718.1" y2="256.8" stroke="#dcc0c2" stroke-width=".62" opacity="0.72"/>
<line x1="633.8" y1="246.1" x2="676.2" y2="252.2" stroke="#dcc0c2" stroke-width=".62" opacity="0.73"/>
<line x1="679.9" y1="252.7" x2="717.6" y2="258.2" stroke="#dcc0c2" stroke-width=".62" opacity="0.68"/>
<line x1="632.7" y1="247.2" x2="689.6" y2="255.5" stroke="#dcc0c2" stroke-width=".62" opacity="0.56"/>
<line x1="691.8" y1="255.8" x2="718.9" y2="259.8" stroke="#dcc0c2" stroke-width=".62" opacity="0.58"/>
<line x1="633.3" y1="249.0" x2="657.8" y2="252.6" stroke="#dcc0c2" stroke-width=".62" opacity="0.49"/>
<line x1="660.7" y1="253.0" x2="677.1" y2="255.4" stroke="#dcc0c2" stroke-width=".62" opacity="0.63"/>
<line x1="680.3" y1="255.9" x2="697.9" y2="258.5" stroke="#dcc0c2" stroke-width=".62" opacity="0.52"/>
<line x1="704.9" y1="259.5" x2="716.8" y2="261.2" stroke="#dcc0c2" stroke-width=".62" opacity="0.52"/>
<line x1="633.8" y1="250.6" x2="650.5" y2="253.0" stroke="#dcc0c2" stroke-width=".62" opacity="0.53"/>
<line x1="655.4" y1="253.7" x2="682.1" y2="257.7" stroke="#dcc0c2" stroke-width=".62" opacity="0.58"/>
<line x1="689.1" y1="258.7" x2="716.8" y2="262.8" stroke="#dcc0c2" stroke-width=".62" opacity="0.54"/>
<line x1="720.4" y1="252.5" x2="738.7" y2="241.2" stroke="#7b3441" stroke-width=".6" opacity=".3"/>
<line x1="720.4" y1="256.5" x2="738.7" y2="245.1" stroke="#7b3441" stroke-width=".6" opacity=".3"/>
<line x1="720.4" y1="260.5" x2="738.7" y2="248.9" stroke="#7b3441" stroke-width=".6" opacity=".3"/>
<line x1="632.2" y1="237.0" x2="719.4" y2="249.3" stroke="#ead6d4" stroke-width=".9" opacity=".78"/>
<line x1="719.4" y1="249.3" x2="739.7" y2="238.0" stroke="#94565f" stroke-width=".7" opacity=".45"/>
<line x1="632.2" y1="250.5" x2="719.4" y2="263.4" stroke="#4b0c1b" stroke-width="2" opacity=".85"/>
<polygon points="679.5,243.2 681.1,243.5 681.1,257.9 679.5,257.6" fill="#4b0c1b" opacity=".8"/>
<polygon points="668.3,241.6 679.5,243.2 679.5,257.6 668.3,255.9" fill="#e9e6e8"/>
<polygon points="668.3,249.9 679.5,251.5 679.5,257.6 668.3,255.9" fill="#b7b0b7" opacity=".8"/>
<polygon points="631.4,251.5 719.3,264.4 719.3,278.8 631.4,265.3" fill="#62202e"/>
<polygon points="719.3,264.4 738.7,252.8 738.7,266.8 719.3,278.8" fill="#4b0c1b"/>
<polygon points="631.4,258.4 719.3,271.6 719.3,278.8 631.4,265.3" fill="#4b0c1b" opacity=".38"/>
<polygon points="631.4,251.5 719.3,264.4 719.3,270.4 631.4,257.3" fill="#b58a90" opacity=".34"/>
<line x1="634.4" y1="253.2" x2="662.6" y2="257.4" stroke="#dcc0c2" stroke-width=".62" opacity="0.58"/>
<line x1="665.3" y1="257.8" x2="718.7" y2="265.7" stroke="#dcc0c2" stroke-width=".62" opacity="0.78"/>
<line x1="634.3" y1="254.9" x2="666.7" y2="259.7" stroke="#dcc0c2" stroke-width=".62" opacity="0.85"/>
<line x1="672.4" y1="260.5" x2="718.5" y2="267.4" stroke="#dcc0c2" stroke-width=".62" opacity="0.89"/>
<line x1="632.4" y1="255.9" x2="688.2" y2="264.2" stroke="#dcc0c2" stroke-width=".62" opacity="0.72"/>
<line x1="691.0" y1="264.6" x2="717.9" y2="268.6" stroke="#dcc0c2" stroke-width=".62" opacity="0.75"/>
<line x1="633.9" y1="257.3" x2="664.2" y2="261.8" stroke="#dcc0c2" stroke-width=".62" opacity="0.80"/>
<line x1="667.5" y1="262.3" x2="685.8" y2="265.1" stroke="#dcc0c2" stroke-width=".62" opacity="0.75"/>
<line x1="688.5" y1="265.4" x2="717.4" y2="269.8" stroke="#dcc0c2" stroke-width=".62" opacity="0.73"/>
<line x1="631.9" y1="258.2" x2="662.1" y2="262.7" stroke="#dcc0c2" stroke-width=".62" opacity="0.48"/>
<line x1="666.3" y1="263.4" x2="698.9" y2="268.2" stroke="#dcc0c2" stroke-width=".62" opacity="0.65"/>
<line x1="705.6" y1="269.2" x2="716.6" y2="270.9" stroke="#dcc0c2" stroke-width=".62" opacity="0.58"/>
<line x1="635.3" y1="260.1" x2="669.1" y2="265.2" stroke="#dcc0c2" stroke-width=".62" opacity="0.52"/>
<line x1="672.9" y1="265.7" x2="718.3" y2="272.6" stroke="#dcc0c2" stroke-width=".62" opacity="0.54"/>
<line x1="632.7" y1="261.7" x2="655.1" y2="265.1" stroke="#dcc0c2" stroke-width=".62" opacity="0.69"/>
<line x1="657.4" y1="265.4" x2="700.6" y2="271.9" stroke="#dcc0c2" stroke-width=".62" opacity="0.60"/>
<line x1="703.3" y1="272.3" x2="716.6" y2="274.4" stroke="#dcc0c2" stroke-width=".62" opacity="0.66"/>
<line x1="633.6" y1="262.9" x2="652.9" y2="265.8" stroke="#dcc0c2" stroke-width=".62" opacity="0.58"/>
<line x1="656.9" y1="266.4" x2="701.5" y2="273.2" stroke="#dcc0c2" stroke-width=".62" opacity="0.50"/>
<line x1="704.3" y1="273.6" x2="717.3" y2="275.6" stroke="#dcc0c2" stroke-width=".62" opacity="0.54"/>
<line x1="633.2" y1="264.3" x2="674.5" y2="270.6" stroke="#dcc0c2" stroke-width=".62" opacity="0.60"/>
<line x1="676.8" y1="270.9" x2="712.4" y2="276.4" stroke="#dcc0c2" stroke-width=".62" opacity="0.55"/>
<line x1="715.6" y1="276.8" x2="716.3" y2="277.0" stroke="#dcc0c2" stroke-width=".62" opacity="0.47"/>
<line x1="720.3" y1="268.0" x2="737.7" y2="256.3" stroke="#7b3441" stroke-width=".6" opacity=".3"/>
<line x1="720.3" y1="271.6" x2="737.7" y2="259.8" stroke="#7b3441" stroke-width=".6" opacity=".3"/>
<line x1="720.3" y1="275.2" x2="737.7" y2="263.3" stroke="#7b3441" stroke-width=".6" opacity=".3"/>
<line x1="631.4" y1="252.2" x2="719.3" y2="265.1" stroke="#ead6d4" stroke-width=".9" opacity=".78"/>
<line x1="719.3" y1="265.1" x2="738.7" y2="253.5" stroke="#94565f" stroke-width=".7" opacity=".45"/>
<line x1="631.4" y1="264.3" x2="719.3" y2="277.8" stroke="#4b0c1b" stroke-width="2" opacity=".85"/>
<polygon points="680.2,258.9 681.8,259.2 681.8,272.2 680.2,271.9" fill="#4b0c1b" opacity=".8"/>
<polygon points="668.3,257.1 680.2,258.9 680.2,271.9 668.3,270.0" fill="#e9e6e8"/>
<polygon points="668.3,264.6 680.2,266.4 680.2,271.9 668.3,270.0" fill="#b7b0b7" opacity=".8"/>
<polygon points="632.2,265.3 719.1,278.8 719.1,293.8 632.2,279.8" fill="#62202e"/>
<polygon points="719.1,278.8 739.0,266.8 739.0,281.6 719.1,293.8" fill="#4b0c1b"/>
<polygon points="632.2,272.6 719.1,286.3 719.1,293.8 632.2,279.8" fill="#4b0c1b" opacity=".38"/>
<polygon points="632.2,265.3 719.1,278.8 719.1,285.1 632.2,271.4" fill="#b58a90" opacity=".34"/>
<line x1="634.8" y1="267.2" x2="692.0" y2="276.1" stroke="#dcc0c2" stroke-width=".62" opacity="0.88"/>
<line x1="696.3" y1="276.8" x2="718.5" y2="280.3" stroke="#dcc0c2" stroke-width=".62" opacity="0.91"/>
<line x1="635.5" y1="268.3" x2="670.3" y2="273.7" stroke="#dcc0c2" stroke-width=".62" opacity="0.88"/>
<line x1="672.9" y1="274.1" x2="699.8" y2="278.3" stroke="#dcc0c2" stroke-width=".62" opacity="0.58"/>
<line x1="704.3" y1="279.0" x2="717.4" y2="281.1" stroke="#dcc0c2" stroke-width=".62" opacity="0.65"/>
<line x1="635.3" y1="270.0" x2="674.6" y2="276.1" stroke="#dcc0c2" stroke-width=".62" opacity="0.81"/>
<line x1="676.9" y1="276.5" x2="707.7" y2="281.3" stroke="#dcc0c2" stroke-width=".62" opacity="0.54"/>
<line x1="711.1" y1="281.9" x2="716.5" y2="282.7" stroke="#dcc0c2" stroke-width=".62" opacity="0.57"/>
<line x1="635.6" y1="271.0" x2="678.0" y2="277.7" stroke="#dcc0c2" stroke-width=".62" opacity="0.53"/>
<line x1="684.9" y1="278.8" x2="708.5" y2="282.5" stroke="#dcc0c2" stroke-width=".62" opacity="0.81"/>
<line x1="714.0" y1="283.3" x2="717.0" y2="283.8" stroke="#dcc0c2" stroke-width=".62" opacity="0.66"/>
<line x1="633.5" y1="272.0" x2="676.5" y2="278.8" stroke="#dcc0c2" stroke-width=".62" opacity="0.68"/>
<line x1="681.8" y1="279.6" x2="704.1" y2="283.1" stroke="#dcc0c2" stroke-width=".62" opacity="0.71"/>
<line x1="708.2" y1="283.8" x2="718.3" y2="285.4" stroke="#dcc0c2" stroke-width=".62" opacity="0.79"/>
<line x1="633.0" y1="273.2" x2="692.8" y2="282.7" stroke="#dcc0c2" stroke-width=".62" opacity="0.69"/>
<line x1="696.3" y1="283.3" x2="717.6" y2="286.6" stroke="#dcc0c2" stroke-width=".62" opacity="0.51"/>
<line x1="635.5" y1="275.0" x2="668.3" y2="280.2" stroke="#dcc0c2" stroke-width=".62" opacity="0.59"/>
<line x1="675.0" y1="281.3" x2="704.9" y2="286.0" stroke="#dcc0c2" stroke-width=".62" opacity="0.51"/>
<line x1="709.6" y1="286.8" x2="716.4" y2="287.9" stroke="#dcc0c2" stroke-width=".62" opacity="0.52"/>
<line x1="634.0" y1="276.3" x2="691.0" y2="285.3" stroke="#dcc0c2" stroke-width=".62" opacity="0.62"/>
<line x1="695.8" y1="286.1" x2="718.5" y2="289.7" stroke="#dcc0c2" stroke-width=".62" opacity="0.53"/>
<line x1="636.0" y1="277.7" x2="663.5" y2="282.1" stroke="#dcc0c2" stroke-width=".62" opacity="0.57"/>
<line x1="666.4" y1="282.6" x2="699.3" y2="287.9" stroke="#dcc0c2" stroke-width=".62" opacity="0.63"/>
<line x1="702.2" y1="288.3" x2="717.8" y2="290.8" stroke="#dcc0c2" stroke-width=".62" opacity="0.61"/>
<line x1="634.4" y1="278.9" x2="653.0" y2="281.9" stroke="#dcc0c2" stroke-width=".62" opacity="0.39"/>
<line x1="656.5" y1="282.4" x2="687.7" y2="287.5" stroke="#dcc0c2" stroke-width=".62" opacity="0.53"/>
<line x1="691.1" y1="288.0" x2="716.3" y2="292.1" stroke="#dcc0c2" stroke-width=".62" opacity="0.38"/>
<line x1="720.1" y1="282.5" x2="738.0" y2="270.5" stroke="#7b3441" stroke-width=".6" opacity=".3"/>
<line x1="720.1" y1="286.3" x2="738.0" y2="274.2" stroke="#7b3441" stroke-width=".6" opacity=".3"/>
<line x1="720.1" y1="290.1" x2="738.0" y2="277.9" stroke="#7b3441" stroke-width=".6" opacity=".3"/>
<line x1="632.2" y1="266.0" x2="719.1" y2="279.5" stroke="#ead6d4" stroke-width=".9" opacity=".78"/>
<line x1="719.1" y1="279.5" x2="739.0" y2="267.5" stroke="#94565f" stroke-width=".7" opacity=".45"/>
<line x1="632.2" y1="278.8" x2="719.1" y2="292.8" stroke="#4b0c1b" stroke-width="2" opacity=".85"/>
<polygon points="679.4,272.8 681.0,273.1 681.0,286.8 679.4,286.5" fill="#4b0c1b" opacity=".8"/>
<polygon points="668.5,271.1 679.4,272.8 679.4,286.5 668.5,284.8" fill="#e9e6e8"/>
<polygon points="668.5,279.0 679.4,280.8 679.4,286.5 668.5,284.8" fill="#b7b0b7" opacity=".8"/>
<polygon points="632.2,279.8 719.0,293.8 719.0,309.6 632.2,295.0" fill="#62202e"/>
<polygon points="719.0,293.8 739.2,281.6 739.2,297.1 719.0,309.6" fill="#4b0c1b"/>
<polygon points="632.2,287.4 719.0,301.7 719.0,309.6 632.2,295.0" fill="#4b0c1b" opacity=".38"/>
<polygon points="632.2,279.8 719.0,293.8 719.0,300.5 632.2,286.2" fill="#b58a90" opacity=".34"/>
<line x1="634.6" y1="281.7" x2="693.2" y2="291.2" stroke="#dcc0c2" stroke-width=".62" opacity="0.96"/>
<line x1="696.9" y1="291.8" x2="716.9" y2="295.0" stroke="#dcc0c2" stroke-width=".62" opacity="0.84"/>
<line x1="634.0" y1="282.6" x2="666.5" y2="287.8" stroke="#dcc0c2" stroke-width=".62" opacity="0.64"/>
<line x1="673.4" y1="289.0" x2="697.1" y2="292.8" stroke="#dcc0c2" stroke-width=".62" opacity="0.61"/>
<line x1="700.7" y1="293.4" x2="718.3" y2="296.3" stroke="#dcc0c2" stroke-width=".62" opacity="0.62"/>
<line x1="635.1" y1="284.5" x2="660.8" y2="288.7" stroke="#dcc0c2" stroke-width=".62" opacity="0.79"/>
<line x1="666.6" y1="289.7" x2="686.1" y2="292.8" stroke="#dcc0c2" stroke-width=".62" opacity="0.54"/>
<line x1="692.3" y1="293.9" x2="716.2" y2="297.8" stroke="#dcc0c2" stroke-width=".62" opacity="0.54"/>
<line x1="634.3" y1="285.7" x2="653.4" y2="288.8" stroke="#dcc0c2" stroke-width=".62" opacity="0.61"/>
<line x1="657.7" y1="289.5" x2="677.4" y2="292.8" stroke="#dcc0c2" stroke-width=".62" opacity="0.55"/>
<line x1="679.4" y1="293.1" x2="717.0" y2="299.3" stroke="#dcc0c2" stroke-width=".62" opacity="0.77"/>
<line x1="632.4" y1="286.7" x2="656.4" y2="290.6" stroke="#dcc0c2" stroke-width=".62" opacity="0.67"/>
<line x1="660.4" y1="291.3" x2="713.6" y2="300.1" stroke="#dcc0c2" stroke-width=".62" opacity="0.76"/>
<line x1="715.9" y1="300.4" x2="717.2" y2="300.7" stroke="#dcc0c2" stroke-width=".62" opacity="0.62"/>
<line x1="636.0" y1="289.0" x2="669.0" y2="294.4" stroke="#dcc0c2" stroke-width=".62" opacity="0.51"/>
<line x1="675.0" y1="295.4" x2="716.7" y2="302.3" stroke="#dcc0c2" stroke-width=".62" opacity="0.51"/>
<line x1="632.6" y1="289.2" x2="660.4" y2="293.8" stroke="#dcc0c2" stroke-width=".62" opacity="0.64"/>
<line x1="666.6" y1="294.9" x2="682.7" y2="297.5" stroke="#dcc0c2" stroke-width=".62" opacity="0.47"/>
<line x1="685.7" y1="298.0" x2="704.8" y2="301.2" stroke="#dcc0c2" stroke-width=".62" opacity="0.54"/>
<line x1="709.0" y1="301.9" x2="716.3" y2="303.1" stroke="#dcc0c2" stroke-width=".62" opacity="0.73"/>
<line x1="635.8" y1="291.5" x2="667.9" y2="296.8" stroke="#dcc0c2" stroke-width=".62" opacity="0.62"/>
<line x1="670.8" y1="297.3" x2="701.8" y2="302.5" stroke="#dcc0c2" stroke-width=".62" opacity="0.55"/>
<line x1="705.2" y1="303.0" x2="717.4" y2="305.1" stroke="#dcc0c2" stroke-width=".62" opacity="0.43"/>
<line x1="634.3" y1="292.3" x2="673.5" y2="298.8" stroke="#dcc0c2" stroke-width=".62" opacity="0.46"/>
<line x1="675.5" y1="299.2" x2="706.6" y2="304.4" stroke="#dcc0c2" stroke-width=".62" opacity="0.53"/>
<line x1="709.4" y1="304.8" x2="717.3" y2="306.2" stroke="#dcc0c2" stroke-width=".62" opacity="0.40"/>
<line x1="632.2" y1="293.9" x2="673.5" y2="300.9" stroke="#dcc0c2" stroke-width=".62" opacity="0.45"/>
<line x1="678.3" y1="301.7" x2="709.3" y2="306.9" stroke="#dcc0c2" stroke-width=".62" opacity="0.51"/>
<line x1="714.0" y1="307.7" x2="717.2" y2="308.2" stroke="#dcc0c2" stroke-width=".62" opacity="0.49"/>
<line x1="720.0" y1="297.8" x2="738.2" y2="285.5" stroke="#7b3441" stroke-width=".6" opacity=".3"/>
<line x1="720.0" y1="301.7" x2="738.2" y2="289.3" stroke="#7b3441" stroke-width=".6" opacity=".3"/>
<line x1="720.0" y1="305.7" x2="738.2" y2="293.2" stroke="#7b3441" stroke-width=".6" opacity=".3"/>
<line x1="632.2" y1="280.5" x2="719.0" y2="294.5" stroke="#ead6d4" stroke-width=".9" opacity=".78"/>
<line x1="719.0" y1="294.5" x2="739.2" y2="282.3" stroke="#94565f" stroke-width=".7" opacity=".45"/>
<line x1="632.2" y1="294.0" x2="719.0" y2="308.6" stroke="#4b0c1b" stroke-width="2" opacity=".85"/>
<polygon points="679.0,287.6 680.6,287.9 680.6,302.3 679.0,302.0" fill="#4b0c1b" opacity=".8"/>
<polygon points="667.9,285.8 679.0,287.6 679.0,302.0 667.9,300.1" fill="#e9e6e8"/>
<polygon points="667.9,294.1 679.0,295.9 679.0,302.0 667.9,300.1" fill="#b7b0b7" opacity=".8"/>
<polygon points="631.7,295.0 718.8,309.6 718.8,325.4 631.7,310.2" fill="#62202e"/>
<polygon points="718.8,309.6 739.1,297.1 739.1,312.5 718.8,325.4" fill="#4b0c1b"/>
<polygon points="631.7,302.6 718.8,317.5 718.8,325.4 631.7,310.2" fill="#4b0c1b" opacity=".38"/>
<polygon points="631.7,295.0 718.8,309.6 718.8,316.3 631.7,301.4" fill="#b58a90" opacity=".34"/>
<line x1="633.4" y1="296.9" x2="686.9" y2="305.9" stroke="#dcc0c2" stroke-width=".62" opacity="0.68"/>
<line x1="692.2" y1="306.8" x2="710.1" y2="309.8" stroke="#dcc0c2" stroke-width=".62" opacity="0.89"/>
<line x1="713.4" y1="310.4" x2="716.3" y2="310.9" stroke="#dcc0c2" stroke-width=".62" opacity="0.88"/>
<line x1="634.7" y1="298.0" x2="650.9" y2="300.7" stroke="#dcc0c2" stroke-width=".62" opacity="0.77"/>
<line x1="657.5" y1="301.8" x2="700.9" y2="309.2" stroke="#dcc0c2" stroke-width=".62" opacity="0.91"/>
<line x1="706.6" y1="310.1" x2="718.3" y2="312.1" stroke="#dcc0c2" stroke-width=".62" opacity="0.83"/>
<line x1="635.6" y1="299.9" x2="691.8" y2="309.5" stroke="#dcc0c2" stroke-width=".62" opacity="0.80"/>
<line x1="695.7" y1="310.1" x2="717.4" y2="313.8" stroke="#dcc0c2" stroke-width=".62" opacity="0.69"/>
<line x1="633.0" y1="300.5" x2="680.8" y2="308.6" stroke="#dcc0c2" stroke-width=".62" opacity="0.55"/>
<line x1="686.8" y1="309.7" x2="717.0" y2="314.8" stroke="#dcc0c2" stroke-width=".62" opacity="0.55"/>
<line x1="635.5" y1="302.4" x2="675.3" y2="309.2" stroke="#dcc0c2" stroke-width=".62" opacity="0.56"/>
<line x1="679.0" y1="309.9" x2="716.2" y2="316.2" stroke="#dcc0c2" stroke-width=".62" opacity="0.53"/>
<line x1="631.8" y1="303.3" x2="665.7" y2="309.1" stroke="#dcc0c2" stroke-width=".62" opacity="0.67"/>
<line x1="672.3" y1="310.2" x2="709.0" y2="316.5" stroke="#dcc0c2" stroke-width=".62" opacity="0.58"/>
<line x1="714.8" y1="317.5" x2="716.5" y2="317.8" stroke="#dcc0c2" stroke-width=".62" opacity="0.51"/>
<line x1="633.1" y1="304.7" x2="654.6" y2="308.4" stroke="#dcc0c2" stroke-width=".62" opacity="0.62"/>
<line x1="659.0" y1="309.2" x2="690.8" y2="314.7" stroke="#dcc0c2" stroke-width=".62" opacity="0.69"/>
<line x1="694.3" y1="315.3" x2="717.1" y2="319.2" stroke="#dcc0c2" stroke-width=".62" opacity="0.73"/>
<line x1="632.6" y1="306.4" x2="658.6" y2="310.9" stroke="#dcc0c2" stroke-width=".62" opacity="0.57"/>
<line x1="661.5" y1="311.4" x2="678.5" y2="314.3" stroke="#dcc0c2" stroke-width=".62" opacity="0.52"/>
<line x1="683.9" y1="315.2" x2="716.8" y2="320.9" stroke="#dcc0c2" stroke-width=".62" opacity="0.57"/>
<line x1="633.5" y1="308.0" x2="669.9" y2="314.4" stroke="#dcc0c2" stroke-width=".62" opacity="0.58"/>
<line x1="672.0" y1="314.7" x2="700.1" y2="319.6" stroke="#dcc0c2" stroke-width=".62" opacity="0.40"/>
<line x1="705.4" y1="320.5" x2="716.9" y2="322.5" stroke="#dcc0c2" stroke-width=".62" opacity="0.48"/>
<line x1="634.7" y1="309.7" x2="685.8" y2="318.6" stroke="#dcc0c2" stroke-width=".62" opacity="0.56"/>
<line x1="688.5" y1="319.0" x2="711.7" y2="323.1" stroke="#dcc0c2" stroke-width=".62" opacity="0.51"/>
<line x1="713.8" y1="323.5" x2="716.9" y2="324.0" stroke="#dcc0c2" stroke-width=".62" opacity="0.59"/>
<line x1="719.8" y1="313.6" x2="738.1" y2="300.9" stroke="#7b3441" stroke-width=".6" opacity=".3"/>
<line x1="719.8" y1="317.5" x2="738.1" y2="304.8" stroke="#7b3441" stroke-width=".6" opacity=".3"/>
<line x1="719.8" y1="321.5" x2="738.1" y2="308.7" stroke="#7b3441" stroke-width=".6" opacity=".3"/>
<line x1="631.7" y1="295.7" x2="718.8" y2="310.3" stroke="#ead6d4" stroke-width=".9" opacity=".78"/>
<line x1="718.8" y1="310.3" x2="739.1" y2="297.8" stroke="#94565f" stroke-width=".7" opacity=".45"/>
<line x1="631.7" y1="309.2" x2="718.8" y2="324.4" stroke="#4b0c1b" stroke-width="2" opacity=".85"/>
<polygon points="679.1,303.2 680.7,303.5 680.7,317.9 679.1,317.6" fill="#4b0c1b" opacity=".8"/>
<polygon points="668.4,301.4 679.1,303.2 679.1,317.6 668.4,315.7" fill="#e9e6e8"/>
<polygon points="668.4,309.7 679.1,311.5 679.1,317.6 668.4,315.7" fill="#b7b0b7" opacity=".8"/>
<polygon points="633.3,310.2 718.7,325.4 718.7,341.3 633.3,325.5" fill="#62202e"/>
<polygon points="718.7,325.4 740.1,312.5 740.1,328.1 718.7,341.3" fill="#4b0c1b"/>
<polygon points="633.3,317.9 718.7,333.4 718.7,341.3 633.3,325.5" fill="#4b0c1b" opacity=".38"/>
<polygon points="633.3,310.2 718.7,325.4 718.7,332.1 633.3,316.6" fill="#b58a90" opacity=".34"/>
<line x1="636.7" y1="312.0" x2="684.2" y2="320.4" stroke="#dcc0c2" stroke-width=".62" opacity="0.68"/>
<line x1="685.8" y1="320.7" x2="717.5" y2="326.4" stroke="#dcc0c2" stroke-width=".62" opacity="0.69"/>
<line x1="635.2" y1="312.9" x2="661.8" y2="317.6" stroke="#dcc0c2" stroke-width=".62" opacity="0.67"/>
<line x1="666.1" y1="318.4" x2="717.8" y2="327.7" stroke="#dcc0c2" stroke-width=".62" opacity="0.88"/>
<line x1="635.5" y1="314.5" x2="683.2" y2="323.1" stroke="#dcc0c2" stroke-width=".62" opacity="0.77"/>
<line x1="689.8" y1="324.3" x2="717.5" y2="329.3" stroke="#dcc0c2" stroke-width=".62" opacity="0.56"/>
<line x1="636.4" y1="315.8" x2="661.2" y2="320.3" stroke="#dcc0c2" stroke-width=".62" opacity="0.65"/>
<line x1="666.7" y1="321.3" x2="716.9" y2="330.3" stroke="#dcc0c2" stroke-width=".62" opacity="0.71"/>
<line x1="637.1" y1="317.1" x2="656.2" y2="320.6" stroke="#dcc0c2" stroke-width=".62" opacity="0.72"/>
<line x1="658.1" y1="320.9" x2="713.5" y2="331.0" stroke="#dcc0c2" stroke-width=".62" opacity="0.69"/>
<line x1="634.5" y1="318.4" x2="688.6" y2="328.2" stroke="#dcc0c2" stroke-width=".62" opacity="0.68"/>
<line x1="690.5" y1="328.6" x2="705.9" y2="331.4" stroke="#dcc0c2" stroke-width=".62" opacity="0.78"/>
<line x1="711.1" y1="332.3" x2="716.2" y2="333.3" stroke="#dcc0c2" stroke-width=".62" opacity="0.63"/>
<line x1="634.0" y1="319.3" x2="672.3" y2="326.3" stroke="#dcc0c2" stroke-width=".62" opacity="0.60"/>
<line x1="674.8" y1="326.7" x2="717.1" y2="334.5" stroke="#dcc0c2" stroke-width=".62" opacity="0.60"/>
<line x1="635.5" y1="320.8" x2="694.3" y2="331.6" stroke="#dcc0c2" stroke-width=".62" opacity="0.47"/>
<line x1="697.4" y1="332.1" x2="716.4" y2="335.6" stroke="#dcc0c2" stroke-width=".62" opacity="0.70"/>
<line x1="637.0" y1="322.6" x2="690.5" y2="332.5" stroke="#dcc0c2" stroke-width=".62" opacity="0.41"/>
<line x1="694.7" y1="333.3" x2="716.5" y2="337.3" stroke="#dcc0c2" stroke-width=".62" opacity="0.57"/>
<line x1="633.6" y1="323.3" x2="671.5" y2="330.3" stroke="#dcc0c2" stroke-width=".62" opacity="0.39"/>
<line x1="673.6" y1="330.7" x2="715.8" y2="338.4" stroke="#dcc0c2" stroke-width=".62" opacity="0.39"/>
<line x1="636.0" y1="324.9" x2="674.0" y2="332.0" stroke="#dcc0c2" stroke-width=".62" opacity="0.55"/>
<line x1="679.9" y1="333.1" x2="693.9" y2="335.7" stroke="#dcc0c2" stroke-width=".62" opacity="0.56"/>
<line x1="700.8" y1="336.9" x2="717.1" y2="340.0" stroke="#dcc0c2" stroke-width=".62" opacity="0.45"/>
<line x1="719.7" y1="329.4" x2="739.1" y2="316.4" stroke="#7b3441" stroke-width=".6" opacity=".3"/>
<line x1="719.7" y1="333.4" x2="739.1" y2="320.3" stroke="#7b3441" stroke-width=".6" opacity=".3"/>
<line x1="719.7" y1="337.4" x2="739.1" y2="324.2" stroke="#7b3441" stroke-width=".6" opacity=".3"/>
<line x1="633.3" y1="310.9" x2="718.7" y2="326.1" stroke="#ead6d4" stroke-width=".9" opacity=".78"/>
<line x1="718.7" y1="326.1" x2="740.1" y2="313.2" stroke="#94565f" stroke-width=".7" opacity=".45"/>
<line x1="633.3" y1="324.5" x2="718.7" y2="340.3" stroke="#4b0c1b" stroke-width="2" opacity=".85"/>
<polygon points="679.4,318.6 681.0,318.9 681.0,333.5 679.4,333.2" fill="#4b0c1b" opacity=".8"/>
<polygon points="667.6,316.5 679.4,318.6 679.4,333.2 667.6,331.0" fill="#e9e6e8"/>
<polygon points="667.6,324.9 679.4,327.1 679.4,333.2 667.6,331.0" fill="#b7b0b7" opacity=".8"/>
<polygon points="631.7,325.5 718.5,341.3 718.5,355.9 631.7,339.5" fill="#62202e"/>
<polygon points="718.5,341.3 739.8,328.1 739.8,342.3 718.5,355.9" fill="#4b0c1b"/>
<polygon points="631.7,332.5 718.5,348.6 718.5,355.9 631.7,339.5" fill="#4b0c1b" opacity=".38"/>
<polygon points="631.7,325.5 718.5,341.3 718.5,347.5 631.7,331.4" fill="#b58a90" opacity=".34"/>
<line x1="633.0" y1="327.0" x2="678.1" y2="335.3" stroke="#dcc0c2" stroke-width=".62" opacity="0.67"/>
<line x1="684.4" y1="336.4" x2="706.5" y2="340.5" stroke="#dcc0c2" stroke-width=".62" opacity="0.67"/>
<line x1="710.7" y1="341.2" x2="717.2" y2="342.4" stroke="#dcc0c2" stroke-width=".62" opacity="0.67"/>
<line x1="633.8" y1="328.3" x2="659.5" y2="333.0" stroke="#dcc0c2" stroke-width=".62" opacity="0.63"/>
<line x1="662.3" y1="333.5" x2="690.2" y2="338.6" stroke="#dcc0c2" stroke-width=".62" opacity="0.83"/>
<line x1="695.4" y1="339.6" x2="716.7" y2="343.5" stroke="#dcc0c2" stroke-width=".62" opacity="0.59"/>
<line x1="632.6" y1="329.3" x2="665.6" y2="335.4" stroke="#dcc0c2" stroke-width=".62" opacity="0.67"/>
<line x1="669.1" y1="336.0" x2="715.5" y2="344.6" stroke="#dcc0c2" stroke-width=".62" opacity="0.67"/>
<line x1="634.8" y1="331.4" x2="664.4" y2="336.8" stroke="#dcc0c2" stroke-width=".62" opacity="0.63"/>
<line x1="667.5" y1="337.4" x2="708.8" y2="345.0" stroke="#dcc0c2" stroke-width=".62" opacity="0.67"/>
<line x1="714.8" y1="346.1" x2="716.8" y2="346.5" stroke="#dcc0c2" stroke-width=".62" opacity="0.63"/>
<line x1="632.3" y1="332.2" x2="655.7" y2="336.6" stroke="#dcc0c2" stroke-width=".62" opacity="0.79"/>
<line x1="662.4" y1="337.8" x2="692.1" y2="343.3" stroke="#dcc0c2" stroke-width=".62" opacity="0.53"/>
<line x1="697.5" y1="344.3" x2="717.5" y2="348.1" stroke="#dcc0c2" stroke-width=".62" opacity="0.52"/>
<line x1="634.6" y1="333.9" x2="692.3" y2="344.7" stroke="#dcc0c2" stroke-width=".62" opacity="0.57"/>
<line x1="694.4" y1="345.1" x2="715.7" y2="349.0" stroke="#dcc0c2" stroke-width=".62" opacity="0.48"/>
<line x1="631.9" y1="334.3" x2="660.0" y2="339.6" stroke="#dcc0c2" stroke-width=".62" opacity="0.48"/>
<line x1="664.4" y1="340.4" x2="703.3" y2="347.7" stroke="#dcc0c2" stroke-width=".62" opacity="0.67"/>
<line x1="707.7" y1="348.5" x2="717.8" y2="350.4" stroke="#dcc0c2" stroke-width=".62" opacity="0.51"/>
<line x1="634.7" y1="336.1" x2="691.3" y2="346.7" stroke="#dcc0c2" stroke-width=".62" opacity="0.46"/>
<line x1="694.6" y1="347.3" x2="717.3" y2="351.6" stroke="#dcc0c2" stroke-width=".62" opacity="0.64"/>
<line x1="634.1" y1="337.4" x2="687.0" y2="347.3" stroke="#dcc0c2" stroke-width=".62" opacity="0.44"/>
<line x1="693.7" y1="348.6" x2="718.0" y2="353.1" stroke="#dcc0c2" stroke-width=".62" opacity="0.59"/>
<line x1="632.4" y1="338.1" x2="654.3" y2="342.2" stroke="#dcc0c2" stroke-width=".62" opacity="0.43"/>
<line x1="655.9" y1="342.5" x2="680.0" y2="347.0" stroke="#dcc0c2" stroke-width=".62" opacity="0.50"/>
<line x1="685.1" y1="348.0" x2="717.6" y2="354.1" stroke="#dcc0c2" stroke-width=".62" opacity="0.38"/>
<line x1="719.5" y1="345.0" x2="738.8" y2="331.7" stroke="#7b3441" stroke-width=".6" opacity=".3"/>
<line x1="719.5" y1="348.6" x2="738.8" y2="335.2" stroke="#7b3441" stroke-width=".6" opacity=".3"/>
<line x1="719.5" y1="352.3" x2="738.8" y2="338.8" stroke="#7b3441" stroke-width=".6" opacity=".3"/>
<line x1="631.7" y1="326.2" x2="718.5" y2="342.0" stroke="#ead6d4" stroke-width=".9" opacity=".78"/>
<line x1="718.5" y1="342.0" x2="739.8" y2="328.8" stroke="#94565f" stroke-width=".7" opacity=".45"/>
<line x1="631.7" y1="338.5" x2="718.5" y2="354.9" stroke="#4b0c1b" stroke-width="2" opacity=".85"/>
<polygon points="678.7,334.3 680.3,334.6 680.3,347.8 678.7,347.5" fill="#4b0c1b" opacity=".8"/>
<polygon points="667.4,332.2 678.7,334.3 678.7,347.5 667.4,345.4" fill="#e9e6e8"/>
<polygon points="667.4,339.8 678.7,341.9 678.7,347.5 667.4,345.4" fill="#b7b0b7" opacity=".8"/>
<polygon points="632.5,339.5 718.4,355.9 718.4,370.0 632.5,353.1" fill="#62202e"/>
<polygon points="718.4,355.9 739.3,342.3 739.3,356.2 718.4,370.0" fill="#4b0c1b"/>
<polygon points="632.5,346.3 718.4,363.0 718.4,370.0 632.5,353.1" fill="#4b0c1b" opacity=".38"/>
<polygon points="632.5,339.5 718.4,355.9 718.4,361.8 632.5,345.2" fill="#b58a90" opacity=".34"/>
<line x1="635.0" y1="341.3" x2="663.6" y2="346.8" stroke="#dcc0c2" stroke-width=".62" opacity="0.91"/>
<line x1="668.3" y1="347.7" x2="701.5" y2="354.1" stroke="#dcc0c2" stroke-width=".62" opacity="0.75"/>
<line x1="704.8" y1="354.7" x2="717.3" y2="357.1" stroke="#dcc0c2" stroke-width=".62" opacity="0.93"/>
<line x1="633.2" y1="342.6" x2="670.6" y2="349.8" stroke="#dcc0c2" stroke-width=".62" opacity="0.65"/>
<line x1="673.0" y1="350.3" x2="717.3" y2="358.8" stroke="#dcc0c2" stroke-width=".62" opacity="0.76"/>
<line x1="633.7" y1="344.1" x2="652.1" y2="347.7" stroke="#dcc0c2" stroke-width=".62" opacity="0.64"/>
<line x1="656.7" y1="348.6" x2="693.6" y2="355.7" stroke="#dcc0c2" stroke-width=".62" opacity="0.70"/>
<line x1="697.2" y1="356.4" x2="711.2" y2="359.1" stroke="#dcc0c2" stroke-width=".62" opacity="0.61"/>
<line x1="634.4" y1="345.4" x2="652.5" y2="348.9" stroke="#dcc0c2" stroke-width=".62" opacity="0.66"/>
<line x1="657.5" y1="349.9" x2="716.2" y2="361.2" stroke="#dcc0c2" stroke-width=".62" opacity="0.64"/>
<line x1="633.5" y1="346.7" x2="685.6" y2="356.8" stroke="#dcc0c2" stroke-width=".62" opacity="0.55"/>
<line x1="692.1" y1="358.1" x2="716.8" y2="362.9" stroke="#dcc0c2" stroke-width=".62" opacity="0.64"/>
<line x1="634.5" y1="348.0" x2="661.8" y2="353.4" stroke="#dcc0c2" stroke-width=".62" opacity="0.60"/>
<line x1="665.2" y1="354.0" x2="688.2" y2="358.5" stroke="#dcc0c2" stroke-width=".62" opacity="0.70"/>
<line x1="694.2" y1="359.7" x2="715.6" y2="363.8" stroke="#dcc0c2" stroke-width=".62" opacity="0.65"/>
<line x1="635.8" y1="349.8" x2="686.6" y2="359.7" stroke="#dcc0c2" stroke-width=".62" opacity="0.65"/>
<line x1="689.8" y1="360.4" x2="715.0" y2="365.3" stroke="#dcc0c2" stroke-width=".62" opacity="0.43"/>
<line x1="635.7" y1="350.9" x2="677.8" y2="359.1" stroke="#dcc0c2" stroke-width=".62" opacity="0.65"/>
<line x1="682.8" y1="360.1" x2="699.8" y2="363.5" stroke="#dcc0c2" stroke-width=".62" opacity="0.43"/>
<line x1="706.7" y1="364.8" x2="717.1" y2="366.9" stroke="#dcc0c2" stroke-width=".62" opacity="0.45"/>
<line x1="636.5" y1="352.7" x2="679.1" y2="361.1" stroke="#dcc0c2" stroke-width=".62" opacity="0.55"/>
<line x1="680.9" y1="361.4" x2="716.0" y2="368.3" stroke="#dcc0c2" stroke-width=".62" opacity="0.56"/>
<line x1="719.4" y1="359.4" x2="738.3" y2="345.8" stroke="#7b3441" stroke-width=".6" opacity=".3"/>
<line x1="719.4" y1="363.0" x2="738.3" y2="349.3" stroke="#7b3441" stroke-width=".6" opacity=".3"/>
<line x1="719.4" y1="366.5" x2="738.3" y2="352.7" stroke="#7b3441" stroke-width=".6" opacity=".3"/>
<line x1="632.5" y1="340.2" x2="718.4" y2="356.6" stroke="#ead6d4" stroke-width=".9" opacity=".78"/>
<line x1="718.4" y1="356.6" x2="739.3" y2="343.0" stroke="#94565f" stroke-width=".7" opacity=".45"/>
<line x1="632.5" y1="352.1" x2="718.4" y2="369.0" stroke="#4b0c1b" stroke-width="2" opacity=".85"/>
<polygon points="679.3,348.6 680.9,348.9 680.9,361.7 679.3,361.4" fill="#4b0c1b" opacity=".8"/>
<polygon points="667.8,346.4 679.3,348.6 679.3,361.4 667.8,359.2" fill="#e9e6e8"/>
<polygon points="667.8,353.8 679.3,356.1 679.3,361.4 667.8,359.2" fill="#b7b0b7" opacity=".8"/>
<polygon points="632.6,353.1 718.2,370.0 718.2,384.9 632.6,367.4" fill="#62202e"/>
<polygon points="718.2,370.0 739.6,356.2 739.6,370.7 718.2,384.9" fill="#4b0c1b"/>
<polygon points="632.6,360.2 718.2,377.5 718.2,384.9 632.6,367.4" fill="#4b0c1b" opacity=".38"/>
<polygon points="632.6,353.1 718.2,370.0 718.2,376.3 632.6,359.1" fill="#b58a90" opacity=".34"/>
<line x1="634.0" y1="354.6" x2="649.0" y2="357.6" stroke="#dcc0c2" stroke-width=".62" opacity="0.89"/>
<line x1="651.8" y1="358.1" x2="695.9" y2="366.9" stroke="#dcc0c2" stroke-width=".62" opacity="0.85"/>
<line x1="700.2" y1="367.7" x2="717.1" y2="371.1" stroke="#dcc0c2" stroke-width=".62" opacity="0.65"/>
<line x1="636.3" y1="356.6" x2="665.5" y2="362.4" stroke="#dcc0c2" stroke-width=".62" opacity="0.89"/>
<line x1="668.6" y1="363.0" x2="716.2" y2="372.5" stroke="#dcc0c2" stroke-width=".62" opacity="0.91"/>
<line x1="633.7" y1="357.1" x2="671.7" y2="364.7" stroke="#dcc0c2" stroke-width=".62" opacity="0.55"/>
<line x1="678.0" y1="366.0" x2="716.6" y2="373.7" stroke="#dcc0c2" stroke-width=".62" opacity="0.80"/>
<line x1="634.9" y1="358.6" x2="660.0" y2="363.6" stroke="#dcc0c2" stroke-width=".62" opacity="0.54"/>
<line x1="661.8" y1="364.0" x2="692.1" y2="370.0" stroke="#dcc0c2" stroke-width=".62" opacity="0.84"/>
<line x1="697.1" y1="371.0" x2="716.7" y2="374.9" stroke="#dcc0c2" stroke-width=".62" opacity="0.59"/>
<line x1="633.1" y1="360.0" x2="667.0" y2="366.8" stroke="#dcc0c2" stroke-width=".62" opacity="0.72"/>
<line x1="671.5" y1="367.7" x2="715.0" y2="376.5" stroke="#dcc0c2" stroke-width=".62" opacity="0.77"/>
<line x1="636.6" y1="361.7" x2="674.8" y2="369.4" stroke="#dcc0c2" stroke-width=".62" opacity="0.70"/>
<line x1="676.6" y1="369.8" x2="697.6" y2="374.0" stroke="#dcc0c2" stroke-width=".62" opacity="0.55"/>
<line x1="703.0" y1="375.1" x2="716.9" y2="377.9" stroke="#dcc0c2" stroke-width=".62" opacity="0.70"/>
<line x1="634.4" y1="362.7" x2="668.3" y2="369.6" stroke="#dcc0c2" stroke-width=".62" opacity="0.58"/>
<line x1="675.0" y1="370.9" x2="717.6" y2="379.5" stroke="#dcc0c2" stroke-width=".62" opacity="0.46"/>
<line x1="634.3" y1="364.0" x2="654.2" y2="368.0" stroke="#dcc0c2" stroke-width=".62" opacity="0.57"/>
<line x1="659.8" y1="369.1" x2="692.3" y2="375.7" stroke="#dcc0c2" stroke-width=".62" opacity="0.60"/>
<line x1="697.2" y1="376.7" x2="713.4" y2="380.0" stroke="#dcc0c2" stroke-width=".62" opacity="0.45"/>
<line x1="715.2" y1="380.4" x2="717.7" y2="380.9" stroke="#dcc0c2" stroke-width=".62" opacity="0.43"/>
<line x1="633.0" y1="364.9" x2="690.9" y2="376.6" stroke="#dcc0c2" stroke-width=".62" opacity="0.52"/>
<line x1="695.6" y1="377.6" x2="715.3" y2="381.6" stroke="#dcc0c2" stroke-width=".62" opacity="0.43"/>
<line x1="636.0" y1="366.6" x2="673.4" y2="374.2" stroke="#dcc0c2" stroke-width=".62" opacity="0.47"/>
<line x1="679.8" y1="375.5" x2="705.7" y2="380.8" stroke="#dcc0c2" stroke-width=".62" opacity="0.55"/>
<line x1="709.6" y1="381.6" x2="716.6" y2="383.1" stroke="#dcc0c2" stroke-width=".62" opacity="0.49"/>
<line x1="719.2" y1="373.8" x2="738.6" y2="359.8" stroke="#7b3441" stroke-width=".6" opacity=".3"/>
<line x1="719.2" y1="377.5" x2="738.6" y2="363.5" stroke="#7b3441" stroke-width=".6" opacity=".3"/>
<line x1="719.2" y1="381.2" x2="738.6" y2="367.1" stroke="#7b3441" stroke-width=".6" opacity=".3"/>
<line x1="632.6" y1="353.8" x2="718.2" y2="370.7" stroke="#ead6d4" stroke-width=".9" opacity=".78"/>
<line x1="718.2" y1="370.7" x2="739.6" y2="356.9" stroke="#94565f" stroke-width=".7" opacity=".45"/>
<line x1="632.6" y1="366.4" x2="718.2" y2="383.9" stroke="#4b0c1b" stroke-width="2" opacity=".85"/>
<polygon points="678.6,362.4 680.2,362.7 680.2,376.2 678.6,375.9" fill="#4b0c1b" opacity=".8"/>
<polygon points="667.7,360.3 678.6,362.4 678.6,375.9 667.7,373.7" fill="#e9e6e8"/>
<polygon points="667.7,368.0 678.6,370.2 678.6,375.9 667.7,373.7" fill="#b7b0b7" opacity=".8"/>
<polygon points="631.8,367.4 718.1,384.9 718.1,400.1 631.8,382.0" fill="#62202e"/>
<polygon points="718.1,384.9 740.2,370.7 740.2,385.6 718.1,400.1" fill="#4b0c1b"/>
<polygon points="631.8,374.7 718.1,392.5 718.1,400.1 631.8,382.0" fill="#4b0c1b" opacity=".38"/>
<polygon points="631.8,367.4 718.1,384.9 718.1,391.3 631.8,373.5" fill="#b58a90" opacity=".34"/>
<line x1="633.7" y1="369.1" x2="688.2" y2="380.2" stroke="#dcc0c2" stroke-width=".62" opacity="0.72"/>
<line x1="694.6" y1="381.5" x2="715.6" y2="385.8" stroke="#dcc0c2" stroke-width=".62" opacity="0.73"/>
<line x1="633.0" y1="370.5" x2="680.3" y2="380.1" stroke="#dcc0c2" stroke-width=".62" opacity="0.79"/>
<line x1="685.5" y1="381.2" x2="716.0" y2="387.4" stroke="#dcc0c2" stroke-width=".62" opacity="0.63"/>
<line x1="635.7" y1="372.2" x2="665.4" y2="378.3" stroke="#dcc0c2" stroke-width=".62" opacity="0.54"/>
<line x1="669.2" y1="379.1" x2="716.9" y2="388.8" stroke="#dcc0c2" stroke-width=".62" opacity="0.75"/>
<line x1="635.8" y1="373.5" x2="658.8" y2="378.2" stroke="#dcc0c2" stroke-width=".62" opacity="0.53"/>
<line x1="663.5" y1="379.2" x2="715.3" y2="389.8" stroke="#dcc0c2" stroke-width=".62" opacity="0.64"/>
<line x1="634.8" y1="374.8" x2="683.2" y2="384.8" stroke="#dcc0c2" stroke-width=".62" opacity="0.56"/>
<line x1="688.6" y1="385.9" x2="716.2" y2="391.6" stroke="#dcc0c2" stroke-width=".62" opacity="0.80"/>
<line x1="633.1" y1="375.8" x2="680.5" y2="385.6" stroke="#dcc0c2" stroke-width=".62" opacity="0.54"/>
<line x1="685.1" y1="386.6" x2="716.3" y2="393.0" stroke="#dcc0c2" stroke-width=".62" opacity="0.51"/>
<line x1="634.5" y1="377.5" x2="661.8" y2="383.2" stroke="#dcc0c2" stroke-width=".62" opacity="0.56"/>
<line x1="664.1" y1="383.6" x2="705.9" y2="392.3" stroke="#dcc0c2" stroke-width=".62" opacity="0.59"/>
<line x1="712.9" y1="393.8" x2="715.2" y2="394.2" stroke="#dcc0c2" stroke-width=".62" opacity="0.54"/>
<line x1="633.0" y1="378.0" x2="678.8" y2="387.5" stroke="#dcc0c2" stroke-width=".62" opacity="0.65"/>
<line x1="682.4" y1="388.3" x2="709.0" y2="393.8" stroke="#dcc0c2" stroke-width=".62" opacity="0.57"/>
<line x1="710.6" y1="394.1" x2="715.9" y2="395.2" stroke="#dcc0c2" stroke-width=".62" opacity="0.46"/>
<line x1="635.5" y1="380.4" x2="661.0" y2="385.7" stroke="#dcc0c2" stroke-width=".62" opacity="0.42"/>
<line x1="663.0" y1="386.1" x2="713.5" y2="396.6" stroke="#dcc0c2" stroke-width=".62" opacity="0.46"/>
<line x1="631.9" y1="380.8" x2="683.6" y2="391.6" stroke="#dcc0c2" stroke-width=".62" opacity="0.42"/>
<line x1="688.9" y1="392.8" x2="716.7" y2="398.6" stroke="#dcc0c2" stroke-width=".62" opacity="0.58"/>
<line x1="719.1" y1="388.7" x2="739.2" y2="374.4" stroke="#7b3441" stroke-width=".6" opacity=".3"/>
<line x1="719.1" y1="392.5" x2="739.2" y2="378.2" stroke="#7b3441" stroke-width=".6" opacity=".3"/>
<line x1="719.1" y1="396.3" x2="739.2" y2="381.9" stroke="#7b3441" stroke-width=".6" opacity=".3"/>
<line x1="631.8" y1="368.1" x2="718.1" y2="385.6" stroke="#ead6d4" stroke-width=".9" opacity=".78"/>
<line x1="718.1" y1="385.6" x2="740.2" y2="371.4" stroke="#94565f" stroke-width=".7" opacity=".45"/>
<line x1="631.8" y1="381.0" x2="718.1" y2="399.1" stroke="#4b0c1b" stroke-width="2" opacity=".85"/>
<polygon points="678.4,377.1 680.0,377.4 680.0,391.2 678.4,390.9" fill="#4b0c1b" opacity=".8"/>
<polygon points="667.4,374.8 678.4,377.1 678.4,390.9 667.4,388.6" fill="#e9e6e8"/>
<polygon points="667.4,382.8 678.4,385.1 678.4,390.9 667.4,388.6" fill="#b7b0b7" opacity=".8"/>
<polygon points="632.1,382.0 717.9,400.1 717.9,415.2 632.1,396.5" fill="#62202e"/>
<polygon points="717.9,400.1 740.3,385.6 740.3,400.3 717.9,415.2" fill="#4b0c1b"/>
<polygon points="632.1,389.2 717.9,407.6 717.9,415.2 632.1,396.5" fill="#4b0c1b" opacity=".38"/>
<polygon points="632.1,382.0 717.9,400.1 717.9,406.4 632.1,388.1" fill="#b58a90" opacity=".34"/>
<line x1="634.6" y1="383.9" x2="694.0" y2="396.4" stroke="#dcc0c2" stroke-width=".62" opacity="0.66"/>
<line x1="698.9" y1="397.5" x2="715.0" y2="400.9" stroke="#dcc0c2" stroke-width=".62" opacity="0.71"/>
<line x1="635.4" y1="385.3" x2="691.5" y2="397.2" stroke="#dcc0c2" stroke-width=".62" opacity="0.62"/>
<line x1="695.0" y1="397.9" x2="716.9" y2="402.6" stroke="#dcc0c2" stroke-width=".62" opacity="0.88"/>
<line x1="633.6" y1="386.1" x2="658.1" y2="391.3" stroke="#dcc0c2" stroke-width=".62" opacity="0.55"/>
<line x1="663.4" y1="392.4" x2="680.3" y2="396.0" stroke="#dcc0c2" stroke-width=".62" opacity="0.73"/>
<line x1="685.0" y1="397.0" x2="703.4" y2="400.9" stroke="#dcc0c2" stroke-width=".62" opacity="0.66"/>
<line x1="710.3" y1="402.4" x2="715.3" y2="403.5" stroke="#dcc0c2" stroke-width=".62" opacity="0.56"/>
<line x1="634.9" y1="387.6" x2="657.0" y2="392.3" stroke="#dcc0c2" stroke-width=".62" opacity="0.74"/>
<line x1="662.3" y1="393.4" x2="691.2" y2="399.5" stroke="#dcc0c2" stroke-width=".62" opacity="0.61"/>
<line x1="695.8" y1="400.5" x2="716.5" y2="405.0" stroke="#dcc0c2" stroke-width=".62" opacity="0.60"/>
<line x1="632.2" y1="388.4" x2="660.5" y2="394.5" stroke="#dcc0c2" stroke-width=".62" opacity="0.58"/>
<line x1="662.6" y1="394.9" x2="715.5" y2="406.3" stroke="#dcc0c2" stroke-width=".62" opacity="0.65"/>
<line x1="635.1" y1="390.8" x2="677.8" y2="400.0" stroke="#dcc0c2" stroke-width=".62" opacity="0.67"/>
<line x1="682.0" y1="400.9" x2="715.0" y2="408.0" stroke="#dcc0c2" stroke-width=".62" opacity="0.61"/>
<line x1="634.2" y1="391.7" x2="684.5" y2="402.5" stroke="#dcc0c2" stroke-width=".62" opacity="0.50"/>
<line x1="686.1" y1="402.9" x2="714.0" y2="408.9" stroke="#dcc0c2" stroke-width=".62" opacity="0.67"/>
<line x1="632.9" y1="392.6" x2="686.8" y2="404.2" stroke="#dcc0c2" stroke-width=".62" opacity="0.61"/>
<line x1="692.1" y1="405.4" x2="716.3" y2="410.6" stroke="#dcc0c2" stroke-width=".62" opacity="0.53"/>
<line x1="636.1" y1="395.0" x2="692.3" y2="407.1" stroke="#dcc0c2" stroke-width=".62" opacity="0.41"/>
<line x1="695.1" y1="407.8" x2="716.1" y2="412.3" stroke="#dcc0c2" stroke-width=".62" opacity="0.52"/>
<line x1="634.2" y1="395.9" x2="693.7" y2="408.8" stroke="#dcc0c2" stroke-width=".62" opacity="0.61"/>
<line x1="695.3" y1="409.1" x2="716.1" y2="413.7" stroke="#dcc0c2" stroke-width=".62" opacity="0.52"/>
<line x1="718.9" y1="403.9" x2="739.3" y2="389.3" stroke="#7b3441" stroke-width=".6" opacity=".3"/>
<line x1="718.9" y1="407.6" x2="739.3" y2="393.0" stroke="#7b3441" stroke-width=".6" opacity=".3"/>
<line x1="718.9" y1="411.4" x2="739.3" y2="396.7" stroke="#7b3441" stroke-width=".6" opacity=".3"/>
<line x1="632.1" y1="382.7" x2="717.9" y2="400.8" stroke="#ead6d4" stroke-width=".9" opacity=".78"/>
<line x1="717.9" y1="400.8" x2="740.3" y2="386.3" stroke="#94565f" stroke-width=".7" opacity=".45"/>
<line x1="632.1" y1="395.5" x2="717.9" y2="414.2" stroke="#4b0c1b" stroke-width="2" opacity=".85"/>
<polygon points="678.8,392.1 680.4,392.4 680.4,406.1 678.8,405.8" fill="#4b0c1b" opacity=".8"/>
<polygon points="667.4,389.6 678.8,392.1 678.8,405.8 667.4,403.3" fill="#e9e6e8"/>
<polygon points="667.4,397.5 678.8,400.0 678.8,405.8 667.4,403.3" fill="#b7b0b7" opacity=".8"/>
<polygon points="632.1,396.5 717.8,415.2 717.8,430.0 632.1,410.8" fill="#62202e"/>
<polygon points="717.8,415.2 740.2,400.3 740.2,414.9 717.8,430.0" fill="#4b0c1b"/>
<polygon points="632.1,403.6 717.8,422.6 717.8,430.0 632.1,410.8" fill="#4b0c1b" opacity=".38"/>
<polygon points="632.1,396.5 717.8,415.2 717.8,421.4 632.1,402.5" fill="#b58a90" opacity=".34"/>
<line x1="634.4" y1="398.4" x2="656.4" y2="403.2" stroke="#dcc0c2" stroke-width=".62" opacity="0.92"/>
<line x1="661.6" y1="404.3" x2="685.6" y2="409.5" stroke="#dcc0c2" stroke-width=".62" opacity="0.78"/>
<line x1="688.9" y1="410.3" x2="715.7" y2="416.1" stroke="#dcc0c2" stroke-width=".62" opacity="0.58"/>
<line x1="633.0" y1="399.4" x2="650.3" y2="403.2" stroke="#dcc0c2" stroke-width=".62" opacity="0.68"/>
<line x1="657.1" y1="404.7" x2="696.8" y2="413.4" stroke="#dcc0c2" stroke-width=".62" opacity="0.79"/>
<line x1="699.7" y1="414.0" x2="715.5" y2="417.5" stroke="#dcc0c2" stroke-width=".62" opacity="0.83"/>
<line x1="635.3" y1="400.8" x2="655.8" y2="405.3" stroke="#dcc0c2" stroke-width=".62" opacity="0.55"/>
<line x1="658.2" y1="405.8" x2="693.9" y2="413.7" stroke="#dcc0c2" stroke-width=".62" opacity="0.65"/>
<line x1="696.9" y1="414.3" x2="716.8" y2="418.7" stroke="#dcc0c2" stroke-width=".62" opacity="0.76"/>
<line x1="632.3" y1="402.0" x2="672.2" y2="410.8" stroke="#dcc0c2" stroke-width=".62" opacity="0.78"/>
<line x1="675.1" y1="411.5" x2="716.8" y2="420.7" stroke="#dcc0c2" stroke-width=".62" opacity="0.67"/>
<line x1="633.2" y1="403.1" x2="689.4" y2="415.5" stroke="#dcc0c2" stroke-width=".62" opacity="0.51"/>
<line x1="691.9" y1="416.0" x2="716.6" y2="421.5" stroke="#dcc0c2" stroke-width=".62" opacity="0.76"/>
<line x1="634.8" y1="405.2" x2="677.7" y2="414.7" stroke="#dcc0c2" stroke-width=".62" opacity="0.68"/>
<line x1="681.9" y1="415.6" x2="698.6" y2="419.4" stroke="#dcc0c2" stroke-width=".62" opacity="0.57"/>
<line x1="703.0" y1="420.3" x2="717.2" y2="423.5" stroke="#dcc0c2" stroke-width=".62" opacity="0.76"/>
<line x1="632.7" y1="405.6" x2="673.9" y2="414.8" stroke="#dcc0c2" stroke-width=".62" opacity="0.49"/>
<line x1="678.2" y1="415.7" x2="715.2" y2="423.9" stroke="#dcc0c2" stroke-width=".62" opacity="0.61"/>
<line x1="635.0" y1="407.3" x2="652.6" y2="411.3" stroke="#dcc0c2" stroke-width=".62" opacity="0.43"/>
<line x1="655.1" y1="411.8" x2="690.7" y2="419.7" stroke="#dcc0c2" stroke-width=".62" opacity="0.59"/>
<line x1="696.3" y1="421.0" x2="715.5" y2="425.3" stroke="#dcc0c2" stroke-width=".62" opacity="0.43"/>
<line x1="632.8" y1="408.1" x2="648.5" y2="411.6" stroke="#dcc0c2" stroke-width=".62" opacity="0.63"/>
<line x1="652.1" y1="412.4" x2="670.1" y2="416.4" stroke="#dcc0c2" stroke-width=".62" opacity="0.62"/>
<line x1="674.9" y1="417.5" x2="717.2" y2="427.0" stroke="#dcc0c2" stroke-width=".62" opacity="0.43"/>
<line x1="632.6" y1="409.4" x2="655.8" y2="414.6" stroke="#dcc0c2" stroke-width=".62" opacity="0.42"/>
<line x1="658.2" y1="415.1" x2="696.8" y2="423.8" stroke="#dcc0c2" stroke-width=".62" opacity="0.41"/>
<line x1="701.5" y1="424.8" x2="716.3" y2="428.2" stroke="#dcc0c2" stroke-width=".62" opacity="0.49"/>
<line x1="718.8" y1="418.9" x2="739.2" y2="404.0" stroke="#7b3441" stroke-width=".6" opacity=".3"/>
<line x1="718.8" y1="422.6" x2="739.2" y2="407.6" stroke="#7b3441" stroke-width=".6" opacity=".3"/>
<line x1="718.8" y1="426.3" x2="739.2" y2="411.3" stroke="#7b3441" stroke-width=".6" opacity=".3"/>
<line x1="632.1" y1="397.2" x2="717.8" y2="415.9" stroke="#ead6d4" stroke-width=".9" opacity=".78"/>
<line x1="717.8" y1="415.9" x2="740.2" y2="401.0" stroke="#94565f" stroke-width=".7" opacity=".45"/>
<line x1="632.1" y1="409.8" x2="717.8" y2="429.0" stroke="#4b0c1b" stroke-width="2" opacity=".85"/>
<polygon points="677.9,406.7 679.5,407.0 679.5,420.5 677.9,420.2" fill="#4b0c1b" opacity=".8"/>
<polygon points="667.3,404.4 677.9,406.7 677.9,420.2 667.3,417.8" fill="#e9e6e8"/>
<polygon points="667.3,412.2 677.9,414.5 677.9,420.2 667.3,417.8" fill="#b7b0b7" opacity=".8"/>
<polygon points="631.9,410.8 717.7,430.0 717.7,442.0 631.9,422.3" fill="#62202e"/>
<polygon points="717.7,430.0 738.5,414.9 738.5,426.6 717.7,442.0" fill="#4b0c1b"/>
<polygon points="631.9,416.6 717.7,436.0 717.7,442.0 631.9,422.3" fill="#4b0c1b" opacity=".38"/>
<polygon points="631.9,410.8 717.7,430.0 717.7,435.1 631.9,415.6" fill="#b58a90" opacity=".34"/>
<line x1="634.2" y1="412.9" x2="666.3" y2="420.1" stroke="#dcc0c2" stroke-width=".62" opacity="0.92"/>
<line x1="668.5" y1="420.6" x2="700.1" y2="427.7" stroke="#dcc0c2" stroke-width=".62" opacity="0.71"/>
<line x1="705.5" y1="428.9" x2="717.1" y2="431.5" stroke="#dcc0c2" stroke-width=".62" opacity="0.67"/>
<line x1="635.0" y1="414.2" x2="681.2" y2="424.6" stroke="#dcc0c2" stroke-width=".62" opacity="0.61"/>
<line x1="684.8" y1="425.5" x2="715.2" y2="432.3" stroke="#dcc0c2" stroke-width=".62" opacity="0.58"/>
<line x1="635.3" y1="415.6" x2="666.0" y2="422.5" stroke="#dcc0c2" stroke-width=".62" opacity="0.84"/>
<line x1="672.4" y1="424.0" x2="713.0" y2="433.1" stroke="#dcc0c2" stroke-width=".62" opacity="0.85"/>
<line x1="635.7" y1="416.9" x2="656.3" y2="421.6" stroke="#dcc0c2" stroke-width=".62" opacity="0.67"/>
<line x1="658.5" y1="422.1" x2="708.5" y2="433.4" stroke="#dcc0c2" stroke-width=".62" opacity="0.69"/>
<line x1="711.5" y1="434.1" x2="715.6" y2="435.0" stroke="#dcc0c2" stroke-width=".62" opacity="0.55"/>
<line x1="635.8" y1="418.3" x2="661.9" y2="424.2" stroke="#dcc0c2" stroke-width=".62" opacity="0.67"/>
<line x1="664.4" y1="424.8" x2="716.7" y2="436.7" stroke="#dcc0c2" stroke-width=".62" opacity="0.62"/>
<line x1="631.9" y1="418.1" x2="646.0" y2="421.4" stroke="#dcc0c2" stroke-width=".62" opacity="0.52"/>
<line x1="652.9" y1="422.9" x2="696.3" y2="432.8" stroke="#dcc0c2" stroke-width=".62" opacity="0.65"/>
<line x1="699.0" y1="433.4" x2="715.4" y2="437.2" stroke="#dcc0c2" stroke-width=".62" opacity="0.69"/>
<line x1="633.1" y1="420.0" x2="665.4" y2="427.4" stroke="#dcc0c2" stroke-width=".62" opacity="0.61"/>
<line x1="669.5" y1="428.3" x2="715.0" y2="438.7" stroke="#dcc0c2" stroke-width=".62" opacity="0.62"/>
<line x1="634.3" y1="421.4" x2="655.8" y2="426.3" stroke="#dcc0c2" stroke-width=".62" opacity="0.49"/>
<line x1="658.3" y1="426.9" x2="705.9" y2="437.8" stroke="#dcc0c2" stroke-width=".62" opacity="0.55"/>
<line x1="712.7" y1="439.3" x2="716.9" y2="440.3" stroke="#dcc0c2" stroke-width=".62" opacity="0.39"/>
<line x1="718.7" y1="433.0" x2="737.5" y2="417.8" stroke="#7b3441" stroke-width=".6" opacity=".3"/>
<line x1="718.7" y1="436.0" x2="737.5" y2="420.7" stroke="#7b3441" stroke-width=".6" opacity=".3"/>
<line x1="718.7" y1="439.0" x2="737.5" y2="423.7" stroke="#7b3441" stroke-width=".6" opacity=".3"/>
<line x1="631.9" y1="411.5" x2="717.7" y2="430.7" stroke="#ead6d4" stroke-width=".9" opacity=".78"/>
<line x1="717.7" y1="430.7" x2="738.5" y2="415.6" stroke="#94565f" stroke-width=".7" opacity=".45"/>
<line x1="631.9" y1="421.3" x2="717.7" y2="441.0" stroke="#4b0c1b" stroke-width="2" opacity=".85"/>
<polygon points="678.3,421.4 679.9,421.7 679.9,432.4 678.3,432.1" fill="#4b0c1b" opacity=".8"/>
<polygon points="667.3,419.0 678.3,421.4 678.3,432.1 667.3,429.5" fill="#e9e6e8"/>
<polygon points="667.3,425.1 678.3,427.6 678.3,432.1 667.3,429.5" fill="#b7b0b7" opacity=".8"/>
</g>
<g id="stack2019">
<polygon points="68.6,405.5 89.9,398.3 165.5,401.5 175.8,404.8 176.0,415.0 156.5,426.4 68.6,418.4" fill="#fff"/>
<polygon points="64.1,408.5 85.4,401.3 161.0,404.5 171.3,407.8 171.5,418.0 152.0,429.4 64.1,421.4" fill="#4b0c1b"/>
<polygon points="64.1,408.5 85.4,401.3 161.0,404.5 171.3,407.8 152.0,416.1" fill="#efe8e7"/>
<line x1="67.6" y1="407.3" x2="104.4" y2="410.4" stroke="#62202e" stroke-width=".95" opacity="0.5"/>
<line x1="109.2" y1="410.8" x2="152.6" y2="414.5" stroke="#62202e" stroke-width=".45" opacity="0.18"/>
<line x1="71.2" y1="406.1" x2="107.8" y2="409.1" stroke="#62202e" stroke-width=".95" opacity="0.5"/>
<line x1="115.3" y1="409.8" x2="155.8" y2="413.1" stroke="#62202e" stroke-width=".45" opacity="0.18"/>
<line x1="74.8" y1="404.9" x2="111.2" y2="407.9" stroke="#62202e" stroke-width=".95" opacity="0.5"/>
<line x1="114.5" y1="408.1" x2="159.0" y2="411.7" stroke="#62202e" stroke-width=".45" opacity="0.18"/>
<line x1="78.3" y1="403.7" x2="114.7" y2="406.6" stroke="#62202e" stroke-width=".95" opacity="0.5"/>
<line x1="115.6" y1="406.7" x2="162.3" y2="410.4" stroke="#62202e" stroke-width=".45" opacity="0.18"/>
<line x1="81.9" y1="402.5" x2="118.1" y2="405.3" stroke="#62202e" stroke-width=".95" opacity="0.5"/>
<line x1="123.6" y1="405.7" x2="165.5" y2="409.0" stroke="#62202e" stroke-width=".45" opacity="0.18"/>
<polygon points="69.3,407.9 85.4,402.4 166.4,408.6 151.7,414.9" fill="none" stroke="#ecd9d7" stroke-width="1"/>
<ellipse cx="92.1" cy="406.3" rx="4.8" ry="2.2" fill="#62202e" fill-opacity=".22" stroke="#62202e" stroke-width=".7" stroke-opacity=".6" opacity="0.72" transform="rotate(4 92.1 406.3)"/>
<ellipse cx="146.0" cy="410.7" rx="4.8" ry="2.2" fill="#62202e" fill-opacity=".22" stroke="#62202e" stroke-width=".7" stroke-opacity=".6" opacity="0.60" transform="rotate(4 146.0 410.7)"/>
<polygon points="62.9,408.5 152.0,416.1 152.0,429.4 62.9,421.4" fill="#62202e"/>
<polygon points="152.0,416.1 170.7,407.8 170.7,418.0 152.0,429.4" fill="#4b0c1b"/>
<polygon points="62.9,414.9 152.0,422.8 152.0,429.4 62.9,421.4" fill="#4b0c1b" opacity=".38"/>
<polygon points="62.9,408.5 152.0,416.1 152.0,421.7 62.9,413.9" fill="#b58a90" opacity=".34"/>
<line x1="63.5" y1="409.5" x2="80.4" y2="411.0" stroke="#dcc0c2" stroke-width=".62" opacity="0.63"/>
<line x1="85.3" y1="411.4" x2="137.2" y2="415.8" stroke="#dcc0c2" stroke-width=".62" opacity="0.63"/>
<line x1="142.4" y1="416.3" x2="149.3" y2="416.9" stroke="#dcc0c2" stroke-width=".62" opacity="0.80"/>
<line x1="65.6" y1="411.5" x2="124.4" y2="416.6" stroke="#dcc0c2" stroke-width=".62" opacity="0.83"/>
<line x1="129.4" y1="417.1" x2="151.5" y2="419.0" stroke="#dcc0c2" stroke-width=".62" opacity="0.72"/>
<line x1="64.9" y1="412.6" x2="102.4" y2="415.9" stroke="#dcc0c2" stroke-width=".62" opacity="0.57"/>
<line x1="107.2" y1="416.3" x2="149.0" y2="419.9" stroke="#dcc0c2" stroke-width=".62" opacity="0.80"/>
<line x1="64.9" y1="413.8" x2="115.9" y2="418.2" stroke="#dcc0c2" stroke-width=".62" opacity="0.81"/>
<line x1="120.0" y1="418.6" x2="150.3" y2="421.2" stroke="#dcc0c2" stroke-width=".62" opacity="0.62"/>
<line x1="64.5" y1="414.8" x2="82.1" y2="416.3" stroke="#dcc0c2" stroke-width=".62" opacity="0.53"/>
<line x1="84.4" y1="416.5" x2="117.9" y2="419.5" stroke="#dcc0c2" stroke-width=".62" opacity="0.72"/>
<line x1="121.9" y1="419.8" x2="149.4" y2="422.2" stroke="#dcc0c2" stroke-width=".62" opacity="0.76"/>
<line x1="66.4" y1="416.2" x2="102.6" y2="419.4" stroke="#dcc0c2" stroke-width=".62" opacity="0.50"/>
<line x1="109.0" y1="420.0" x2="151.3" y2="423.7" stroke="#dcc0c2" stroke-width=".62" opacity="0.66"/>
<line x1="65.3" y1="417.7" x2="81.6" y2="419.2" stroke="#dcc0c2" stroke-width=".62" opacity="0.52"/>
<line x1="83.9" y1="419.4" x2="133.8" y2="423.8" stroke="#dcc0c2" stroke-width=".62" opacity="0.43"/>
<line x1="138.9" y1="424.2" x2="149.2" y2="425.1" stroke="#dcc0c2" stroke-width=".62" opacity="0.65"/>
<line x1="65.3" y1="418.7" x2="100.9" y2="421.9" stroke="#dcc0c2" stroke-width=".62" opacity="0.65"/>
<line x1="103.6" y1="422.1" x2="147.1" y2="426.0" stroke="#dcc0c2" stroke-width=".62" opacity="0.65"/>
<line x1="64.1" y1="420.3" x2="111.4" y2="424.5" stroke="#dcc0c2" stroke-width=".62" opacity="0.57"/>
<line x1="113.2" y1="424.7" x2="150.4" y2="428.0" stroke="#dcc0c2" stroke-width=".62" opacity="0.51"/>
<line x1="153.0" y1="419.4" x2="169.7" y2="410.4" stroke="#7b3441" stroke-width=".6" opacity=".3"/>
<line x1="153.0" y1="422.8" x2="169.7" y2="412.9" stroke="#7b3441" stroke-width=".6" opacity=".3"/>
<line x1="153.0" y1="426.1" x2="169.7" y2="415.4" stroke="#7b3441" stroke-width=".6" opacity=".3"/>
<line x1="62.9" y1="409.2" x2="152.0" y2="416.8" stroke="#ead6d4" stroke-width=".9" opacity=".78"/>
<line x1="152.0" y1="416.8" x2="170.7" y2="408.5" stroke="#94565f" stroke-width=".7" opacity=".45"/>
<line x1="62.9" y1="420.4" x2="152.0" y2="428.4" stroke="#4b0c1b" stroke-width="2" opacity=".85"/>
<polygon points="110.5,412.8 112.1,413.1 112.1,425.1 110.5,424.8" fill="#4b0c1b" opacity=".8"/>
<polygon points="101.0,411.9 110.5,412.8 110.5,424.8 101.0,423.9" fill="#e9e6e8"/>
<polygon points="101.0,418.9 110.5,419.7 110.5,424.8 101.0,423.9" fill="#b7b0b7" opacity=".8"/>
<polygon points="100.6,411.9 110.8,412.8 131.8,403.4 120.4,402.9" fill="#e9e6e8"/>
</g>
<g filter="url(#gs)">
<rect x="53" y="148.8" width="27" height="14.6" fill="#000"/>
<text class="yl" x="56.9" y="160.3" textLength="20.6" lengthAdjust="spacingAndGlyphs">15%</text>
<rect x="53" y="242.3" width="27" height="14.6" fill="#000"/>
<text class="yl" x="57.1" y="253.8" textLength="20.8" lengthAdjust="spacingAndGlyphs">10%</text>
<rect x="53" y="338.2" width="27" height="14.6" fill="#000"/>
<text class="yl" x="58.5" y="349.7" textLength="15.0" lengthAdjust="spacingAndGlyphs">5%</text>
<rect x="53" y="419.4" width="27" height="14.6" fill="#000"/>
<text class="yl" x="63.1" y="430.9" textLength="5.4" lengthAdjust="spacingAndGlyphs">0</text>
</g>
<line class="dot" x1="742.4" y1="154.8" x2="751.6" y2="154.8"/>
<line class="dot" x1="743.3" y1="250.5" x2="752.0" y2="250.5"/>
<line class="dot" x1="743.3" y1="348.7" x2="752.0" y2="348.7"/>
<g id="p2024">
<g fill="#fff" transform="translate(3.9,-2.2)"><ellipse cx="560.1" cy="310.6" rx="5.8" ry="7.3"/><polygon points="557.2,317.5 555.3,318.5 546.2,321.7 543.5,332.6 540.8,341.7 538.9,345.3 537.1,356.2 538.9,369.9 535.7,379.4 537.1,381.5 547.6,381.0 548.9,378.1 547.6,370.8 547.6,356.2 569.0,356.2 570.8,376.3 569.0,378.4 569.5,381.5 581.2,381.9 579.6,377.2 580.4,365.3 580.8,346.2 578.1,339.9 576.7,329.9 574.4,320.8 565.0,318.3 563.0,317.3"/></g>
<g fill="#ae182e"><ellipse cx="560.1" cy="310.6" rx="5.8" ry="7.3"/><polygon points="557.2,317.5 555.3,318.5 546.2,321.7 543.5,332.6 540.8,341.7 538.9,345.3 537.1,356.2 538.9,369.9 535.7,379.4 537.1,381.5 547.6,381.0 548.9,378.1 547.6,370.8 547.6,356.2 569.0,356.2 570.8,376.3 569.0,378.4 569.5,381.5 581.2,381.9 579.6,377.2 580.4,365.3 580.8,346.2 578.1,339.9 576.7,329.9 574.4,320.8 565.0,318.3 563.0,317.3"/></g>
<ellipse cx="560.1" cy="309.6" rx="4.6" ry="5.9" fill="#e9a9ab" opacity=".55"/>
<ellipse cx="560.1" cy="314.2" rx="4.2" ry="3.4" fill="#ae182e" opacity=".5"/>
<path d="M556.6 309.6q3.5-1 7 0" stroke="#ae182e" stroke-width="1.3" fill="none" opacity=".7"/>
<polygon points="557.4,319.3 563.2,319.3 561.4,333.6 560.2,333.6" fill="#e9a9ab" opacity=".9"/>
<polygon points="559.7,320 561.1,320 561.6,330.5 560.5,332.6 559.6,330.5" fill="#8a0f25"/>
<path d="M551 345.2l3.6-2.6 4 .8 4.2-1.8 4.6 2.2-2.2 3-4.4.6-2.2-1.4-3.4 1.6z" fill="#e9a9ab" opacity=".62"/>
<polygon points="546.2,321.7 551,320.3 548,345 538.9,345.3 543.5,332.6" fill="#8a0f25" opacity=".35"/>
<polygon points="574.4,320.8 570,319.6 572.5,345.4 580.8,346.2 576.7,329.9" fill="#8a0f25" opacity=".3"/>
<polygon points="544.8,356.2 547.6,356.2 547.6,370.8 548.9,378.1 546,379" fill="#8a0f25" opacity=".55"/>
<polygon points="569,356.2 572.2,356.2 573,377 569,378.4 570.8,376.3" fill="#8a0f25" opacity=".55"/>
<polygon points="538.9,347 580.8,347.6 580.6,351 547.6,356.2 569,356.2 538,351" fill="#8a0f25" opacity=".25"/>
</g>
<g id="p2025">
<g fill="#fff" transform="translate(4.2,-2)"><ellipse cx="687.2" cy="96.5" rx="6.3" ry="8.8"/><polygon points="692.2,102.6 696.1,103.9 700.5,106.1 702.9,109.1 703.6,117.0 703.8,120.0 705.8,132.8 706.8,142.7 701.3,144.7 689.5,145.7 687.0,157.5 688.0,163.4 687.0,166.4 675.7,166.9 673.2,164.9 677.1,157.5 676.7,141.2 671.2,141.2 672.2,152.6 673.7,159.5 672.2,162.0 659.4,164.2 657.4,162.4 659.9,152.6 661.3,133.8 663.3,130.9 678.4,129.0 679.6,123.5 668.2,120.5 667.9,117.0 669.4,111.7 672.5,107.4 674.7,103.0 676.0,99.5 678.6,97.7 681.2,96.4 684.0,104.0"/></g>
<g fill="#ae182e"><ellipse cx="687.2" cy="96.5" rx="6.3" ry="8.8"/><polygon points="692.2,102.6 696.1,103.9 700.5,106.1 702.9,109.1 703.6,117.0 703.8,120.0 705.8,132.8 706.8,142.7 701.3,144.7 689.5,145.7 687.0,157.5 688.0,163.4 687.0,166.4 675.7,166.9 673.2,164.9 677.1,157.5 676.7,141.2 671.2,141.2 672.2,152.6 673.7,159.5 672.2,162.0 659.4,164.2 657.4,162.4 659.9,152.6 661.3,133.8 663.3,130.9 678.4,129.0 679.6,123.5 668.2,120.5 667.9,117.0 669.4,111.7 672.5,107.4 674.7,103.0 676.0,99.5 678.6,97.7 681.2,96.4 684.0,104.0"/></g>
<ellipse cx="687.6" cy="95.2" rx="5.0" ry="7.0" fill="#e9a9ab" opacity=".6"/>
<ellipse cx="687.4" cy="101.2" rx="4.6" ry="3.8" fill="#ae182e" opacity=".5"/>
<path d="M682.6 95.2q4.4-1.2 9.6 0" stroke="#ae182e" stroke-width="1.5" fill="none" opacity=".7"/>
<path d="M674.6 103.6q.6-4.2 4-5.6l3 1.6-1 6-3.6 1.8z" fill="#e9a9ab" opacity=".75"/>
<ellipse cx="679.2" cy="101.0" rx="2.7" ry="3.3" fill="#8a0f25"/>
<polygon points="686.2,105.8 690.2,104.6 688.6,118 686.6,119" fill="#e9a9ab" opacity=".85"/>
<polygon points="687.4,106.6 688.6,106.4 688.3,116.6 687.2,117.4" fill="#8a0f25"/>
<path d="M675.4 131.2l5.6-2.4 2 1.6-3.6 4.4-3.2.2z" fill="#e9a9ab" opacity=".75"/>
<polygon points="696.1,103.9 702.9,109.1 703.8,120 706.8,142.7 701.3,144.7 697,144.9 699,125" fill="#8a0f25" opacity=".35"/>
<polygon points="676.7,141.2 680,141 679.6,158 677.1,157.5" fill="#8a0f25" opacity=".6"/>
<polygon points="663.5,137 678,135.2 689.5,139 689.5,145.7 676.7,141.2 671.2,141.2 663,141" fill="#8a0f25" opacity=".3"/>
<polygon points="668.2,120.5 679.6,123.5 679.2,126 669,122.6" fill="#8a0f25" opacity=".5"/>
</g>
</svg>
</body></html>
